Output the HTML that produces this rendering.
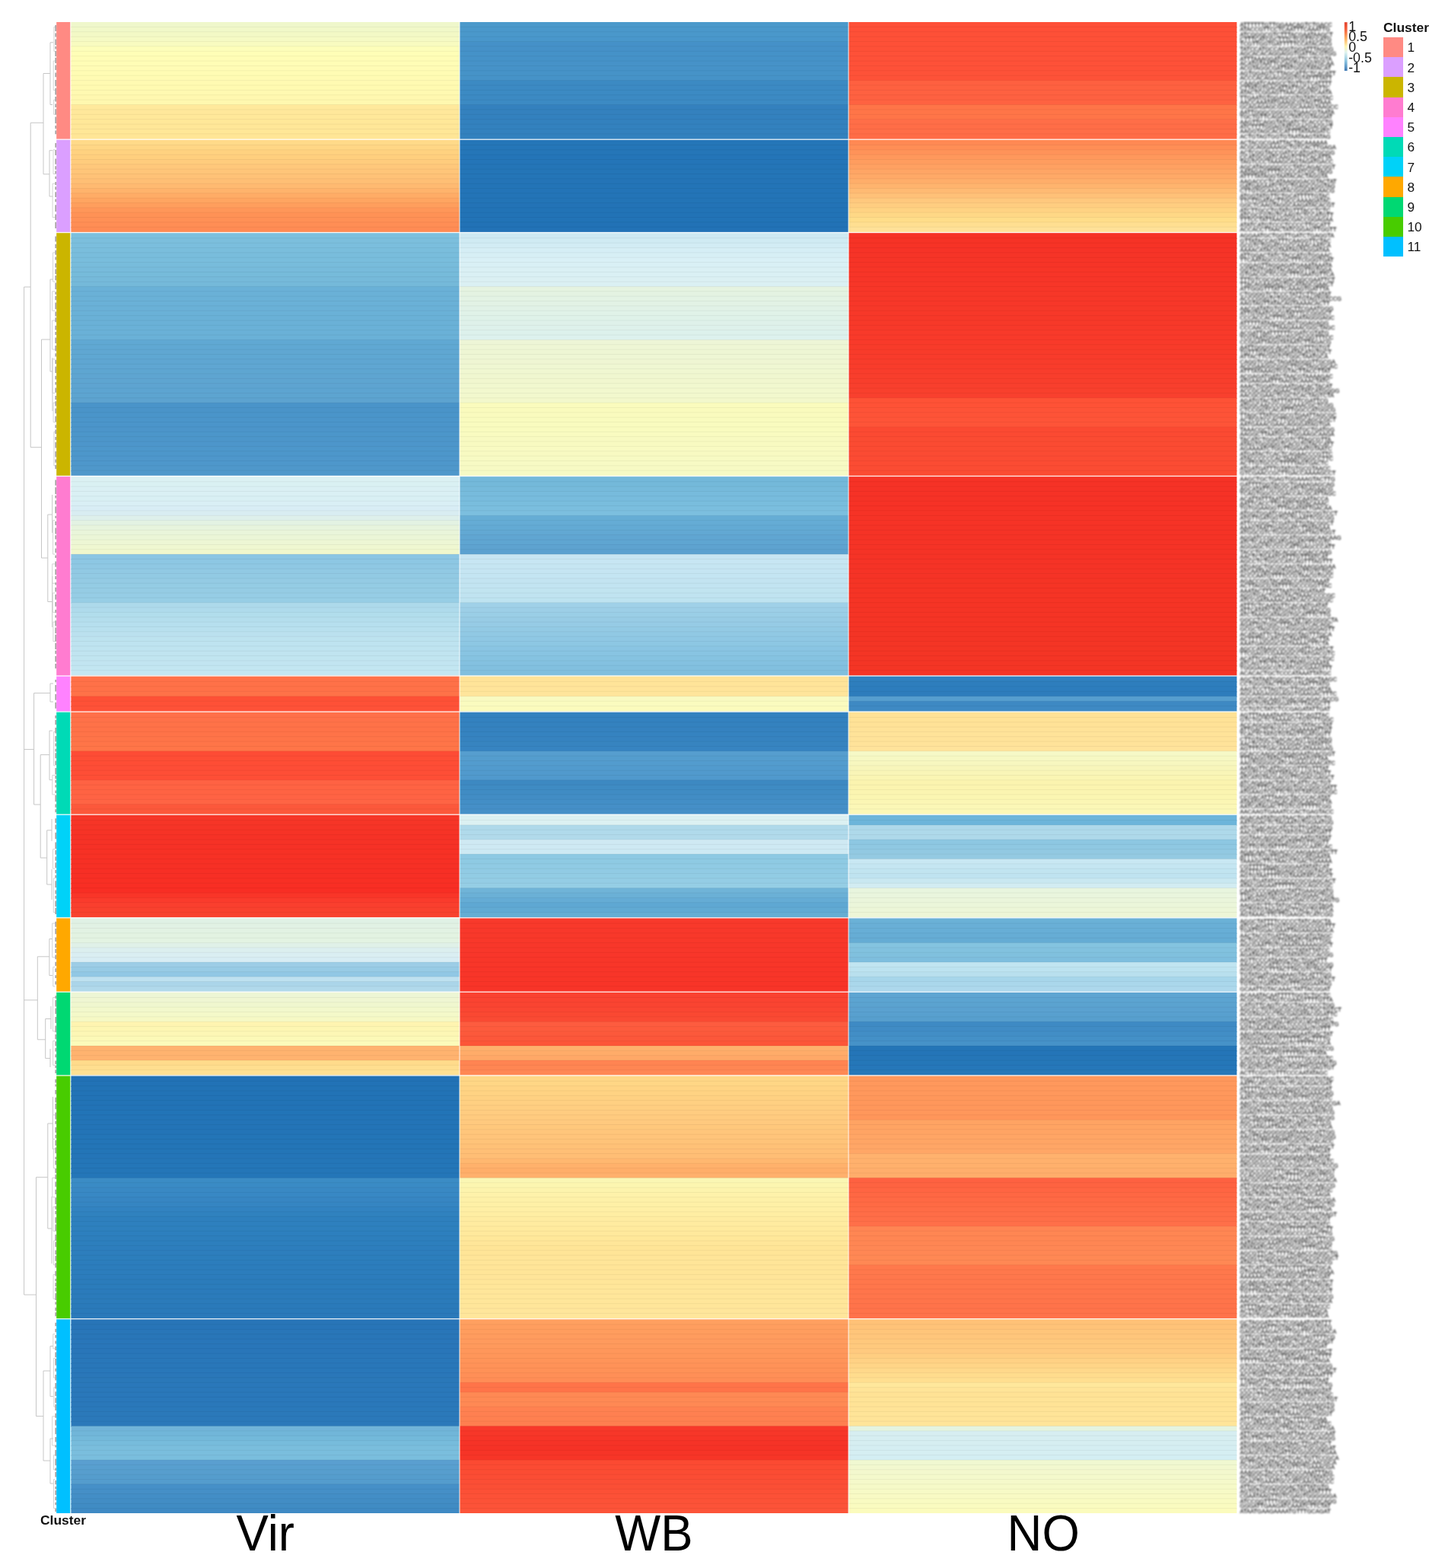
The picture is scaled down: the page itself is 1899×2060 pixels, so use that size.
<!DOCTYPE html>
<html lang="en"><head><meta charset="utf-8"><title>Heatmap</title>
<style>html,body{margin:0;padding:0;background:#fff}body{width:1899px;height:2060px;overflow:hidden}svg{display:block}text{font-family:"Liberation Sans",sans-serif}.rl{font-size:7.5px;fill:#000;stroke:#000;stroke-width:0.12px}.lg{font-size:17.2px;fill:#111}.cl{font-size:63.5px;fill:#000}</style></head><body>
<svg width="1899" height="2060" viewBox="0 0 1899 2060" role="img" aria-label="Clustered heatmap of Vir, WB and NO">
<rect width="1899" height="2060" fill="#fff"/>
<g fill="none" stroke="#C6C6C6" stroke-width="1.0" shape-rendering="geometricPrecision">
<path d="M31.6 377V1701"/>
<path d="M31.6 377H40.2"/>
<path d="M40.2 161.3V587.7"/>
<path d="M40.2 161.3H57"/>
<path d="M40.2 587.7H54.5"/>
<path d="M57 96.5V228.8"/>
<path d="M57 96.5H66"/>
<path d="M66 55.8V137.5"/>
<path d="M66 55.8H70"/>
<path d="M66 137.5H69"/>
<path d="M57 228.8H65"/>
<path d="M65 197.7V258"/>
<path d="M65 197.7H69"/>
<path d="M65 258H69.5"/>
<path d="M54.5 446V733"/>
<path d="M54.5 446H66"/>
<path d="M66 367V488"/>
<path d="M66 367H70"/>
<path d="M66 488H69"/>
<path d="M69 470V540"/>
<path d="M54.5 733H62.8"/>
<path d="M62.8 676V790.5"/>
<path d="M62.8 676H68.7"/>
<path d="M68.7 650V700"/>
<path d="M62.8 790.5H68.7"/>
<path d="M68.7 757V824"/>
<path d="M31.6 984.6H44.6"/>
<path d="M44.6 910.6V1057"/>
<path d="M44.6 910.6H66"/>
<path d="M66 898V922"/>
<path d="M66 898H70"/>
<path d="M66 922H70"/>
<path d="M44.6 1057H53.2"/>
<path d="M53.2 991.6V1127"/>
<path d="M53.2 991.6H65"/>
<path d="M65 960V1024.6"/>
<path d="M65 960H69"/>
<path d="M65 1024.6H69"/>
<path d="M53.2 1127H61.7"/>
<path d="M61.7 1090.8V1162"/>
<path d="M61.7 1090.8H68"/>
<path d="M68 1076V1105"/>
<path d="M61.7 1162H68"/>
<path d="M68 1142V1182"/>
<path d="M31.6 1313.9H49.3"/>
<path d="M49.3 1256.8V1365.8"/>
<path d="M49.3 1256.8H64.9"/>
<path d="M64.9 1233.5V1281.5"/>
<path d="M64.9 1233.5H69"/>
<path d="M64.9 1281.5H69"/>
<path d="M49.3 1365.8H59.7"/>
<path d="M59.7 1338.5V1390.4"/>
<path d="M59.7 1338.5H67"/>
<path d="M67 1322V1352"/>
<path d="M59.7 1390.4H66"/>
<path d="M66 1378V1402"/>
<path d="M31.6 1701H47.5"/>
<path d="M47.5 1546.7V1860.6"/>
<path d="M47.5 1546.7H62.8"/>
<path d="M62.8 1476V1614"/>
<path d="M62.8 1476H69.5"/>
<path d="M69.5 1441V1510"/>
<path d="M62.8 1614H68"/>
<path d="M68 1572V1660"/>
<path d="M47.5 1860.6H57"/>
<path d="M57 1801V1919"/>
<path d="M57 1801H66"/>
<path d="M66 1768.5V1834.6"/>
<path d="M66 1768.5H70"/>
<path d="M66 1834.6H70"/>
<path d="M57 1919H66"/>
<path d="M66 1890V1949"/>
<path d="M66 1890H70"/>
<path d="M66 1949H70"/>
</g>
<g fill="none" stroke="#CFCFCF" stroke-width="0.9">
<path d="M72.4 35.4H70.9V67.3H72.4M72.4 80.1H70.2V118.4H72.4M72.4 131.2H70.6V150.3H72.4M72.4 196.8H70.0V228.5H72.4M72.4 241.2H69.1V285.5H72.4M72.4 331.9H69.6V370.1H72.4M72.4 382.8H68.8V408.2H72.4M72.4 421.0H68.7V459.1H72.4M72.4 471.9H68.9V516.4H72.4M72.4 529.1H70.1V554.6H72.4M72.4 567.3H70.9V611.8H72.4M72.4 683.7H69.6V728.1H72.4M72.4 740.9H68.7V766.3H72.4M72.4 779.0H69.3V804.4H72.4M72.4 817.1H69.9V842.6H72.4M72.4 961.4H70.6V1005.8H72.4M72.4 1018.5H68.8V1043.9H72.4M72.4 1115.7H69.5V1141.2H72.4M72.4 1153.9H70.3V1198.5H72.4M72.4 1213.1H68.7V1257.7H72.4M72.4 1270.4H69.8V1295.9H72.4M72.4 1310.5H69.6V1354.9H72.4M72.4 1367.6H69.7V1399.4H72.4M72.4 1464.8H69.3V1496.6H72.4M72.4 1509.3H70.3V1534.7H72.4M72.4 1547.4H68.8V1572.8H72.4M72.4 1585.6H69.9V1617.3H72.4M72.4 1630.1H70.4V1661.8H72.4M72.4 1674.5H70.1V1706.3H72.4M72.4 1752.7H69.8V1771.8H72.4M72.4 1784.5H70.4V1810.0H72.4M72.4 1822.7H70.8V1848.1H72.4M72.4 1860.8H68.7V1899.0H72.4M72.4 1911.7H70.4V1930.8H72.4M72.4 1943.5H70.5V1981.6H72.4"/>
</g>
<g fill="none" stroke="#4a4040" stroke-opacity="0.5" stroke-width="1.6">
<path d="M73.2 33.0V40.9M73.2 43.4V48.5M73.2 51.5V59.3M73.2 61.0V64.6M73.2 66.9V74.1M73.2 75.8V83.1M73.2 85.6V92.0M73.2 95.6V101.3M73.2 104.9V113.2M73.2 115.8V124.4M73.2 127.0V133.6M73.2 136.6V140.9M73.2 143.3V150.7M73.2 153.4V161.9M73.2 164.9V168.9M73.2 171.6V176.3M73.2 188.1V193.7M73.2 196.9V204.1M73.2 208.6V215.7M73.2 218.3V222.7M73.2 224.5V228.4M73.2 231.8V234.9M73.2 238.9V243.0M73.2 245.3V249.2M73.2 252.3V259.0M73.2 261.4V265.2M73.2 269.3V278.0M73.2 281.4V288.9M73.2 291.7V300.0M73.2 310.4V317.5M73.2 320.7V326.1M73.2 328.8V334.7M73.2 337.4V341.5M73.2 346.0V351.6M73.2 353.4V360.0M73.2 361.9V368.3M73.2 371.4V380.1M73.2 383.4V386.8M73.2 388.9V394.2M73.2 397.6V406.3M73.2 409.6V415.5M73.2 417.3V423.3M73.2 427.7V433.6M73.2 436.0V439.9M73.2 443.6V451.1M73.2 454.0V461.2M73.2 464.2V468.4M73.2 472.8V478.0M73.2 481.5V490.0M73.2 493.8V498.6M73.2 502.0V505.6M73.2 509.6V515.7M73.2 519.9V525.1M73.2 527.2V533.5M73.2 536.5V543.3M73.2 546.7V554.4M73.2 558.2V562.3M73.2 564.5V569.9M73.2 573.9V578.1M73.2 581.0V588.4M73.2 592.9V600.6M73.2 603.5V607.7M73.2 611.0V616.1M73.2 630.5V637.8M73.2 640.3V649.2M73.2 650.9V654.5M73.2 657.4V662.5M73.2 665.4V674.3M73.2 677.7V680.7M73.2 684.9V690.0M73.2 693.4V701.4M73.2 703.3V708.6M73.2 712.2V716.4M73.2 720.6V726.2M73.2 729.6V733.1M73.2 737.5V744.8M73.2 747.7V755.1M73.2 756.9V760.9M73.2 765.3V768.5M73.2 771.8V777.6M73.2 781.0V787.7M73.2 791.0V796.8M73.2 801.1V805.1M73.2 808.2V811.4M73.2 815.3V822.6M73.2 824.4V831.9M73.2 833.8V842.8M73.2 844.8V853.1M73.2 854.7V858.9M73.2 861.9V869.5M73.2 872.0V878.3M73.2 893.0V896.3M73.2 900.0V908.4M73.2 911.9V919.8M73.2 922.8V930.8M73.2 940.1V943.8M73.2 945.8V951.9M73.2 956.0V963.6M73.2 967.0V974.6M73.2 976.6V980.4M73.2 983.8V987.5M73.2 989.2V996.3M73.2 999.4V1005.3M73.2 1009.1V1017.4M73.2 1019.1V1023.2M73.2 1024.8V1028.4M73.2 1031.3V1034.4M73.2 1038.6V1042.0M73.2 1044.5V1053.3M73.2 1056.6V1060.8M73.2 1063.2V1067.2M73.2 1075.2V1081.2M73.2 1083.4V1089.6M73.2 1093.7V1102.3M73.2 1106.5V1114.9M73.2 1117.0V1122.7M73.2 1125.4V1130.8M73.2 1133.2V1140.3M73.2 1143.1V1147.3M73.2 1149.7V1153.5M73.2 1157.3V1165.9M73.2 1169.4V1174.6M73.2 1176.8V1180.7M73.2 1183.6V1191.0M73.2 1192.8V1201.1M73.2 1210.8V1217.8M73.2 1219.9V1227.2M73.2 1231.6V1237.1M73.2 1239.8V1245.0M73.2 1246.8V1251.9M73.2 1254.5V1260.2M73.2 1263.8V1269.1M73.2 1272.2V1277.0M73.2 1281.3V1285.0M73.2 1289.3V1293.6M73.2 1308.2V1311.7M73.2 1314.0V1322.4M73.2 1324.5V1332.0M73.2 1335.9V1344.0M73.2 1347.6V1356.2M73.2 1359.0V1365.2M73.2 1368.2V1374.2M73.2 1376.7V1381.4M73.2 1385.2V1389.3M73.2 1393.5V1398.1M73.2 1399.7V1403.2M73.2 1405.5V1410.0M73.2 1418.0V1422.5M73.2 1424.4V1427.5M73.2 1432.0V1437.5M73.2 1441.7V1448.4M73.2 1450.1V1457.3M73.2 1461.6V1470.5M73.2 1472.7V1476.8M73.2 1481.1V1487.9M73.2 1491.0V1495.2M73.2 1498.1V1505.1M73.2 1507.4V1515.2M73.2 1519.7V1522.9M73.2 1524.5V1530.5M73.2 1535.0V1541.0M73.2 1543.3V1549.0M73.2 1552.4V1559.3M73.2 1562.8V1569.1M73.2 1573.2V1582.1M73.2 1584.5V1588.8M73.2 1591.0V1595.2M73.2 1599.3V1606.7M73.2 1608.6V1617.5M73.2 1622.0V1630.0M73.2 1631.5V1638.3M73.2 1642.4V1648.0M73.2 1649.7V1656.7M73.2 1659.3V1665.4M73.2 1669.8V1676.4M73.2 1679.9V1683.2M73.2 1685.3V1689.9M73.2 1691.4V1696.6M73.2 1699.1V1708.0M73.2 1710.4V1713.7M73.2 1717.8V1722.1M73.2 1724.2V1729.2M73.2 1737.7V1742.3M73.2 1745.8V1750.3M73.2 1754.1V1757.7M73.2 1761.6V1765.5M73.2 1768.7V1774.1M73.2 1776.5V1783.3M73.2 1785.0V1793.8M73.2 1797.8V1801.8M73.2 1805.9V1813.6M73.2 1816.9V1824.5M73.2 1828.2V1834.1M73.2 1836.5V1843.2M73.2 1845.1V1853.1M73.2 1856.7V1862.8M73.2 1865.6V1872.8M73.2 1875.8V1884.3M73.2 1888.0V1894.5M73.2 1898.4V1901.5M73.2 1905.1V1912.8M73.2 1916.5V1925.2M73.2 1928.6V1932.1M73.2 1933.8V1940.6M73.2 1945.0V1950.2M73.2 1953.1V1956.4M73.2 1958.0V1964.1M73.2 1966.4V1971.0M73.2 1973.8V1977.2M73.2 1981.5V1986.0"/>
</g>
<g>
<rect x="74.2" y="29.00" width="18.1" height="154.50" fill="#FF8A83"/>
<rect x="74.2" y="182.90" width="18.1" height="122.90" fill="#DB9FFF"/>
<rect x="74.2" y="305.20" width="18.1" height="320.60" fill="#CBB500"/>
<rect x="74.2" y="625.20" width="18.1" height="263.10" fill="#FF7CD0"/>
<rect x="74.2" y="887.70" width="18.1" height="47.70" fill="#FF82FF"/>
<rect x="74.2" y="934.80" width="18.1" height="135.70" fill="#00DAB6"/>
<rect x="74.2" y="1069.90" width="18.1" height="136.20" fill="#00D2F8"/>
<rect x="74.2" y="1205.50" width="18.1" height="98.00" fill="#FFA800"/>
<rect x="74.2" y="1302.90" width="18.1" height="110.40" fill="#00D872"/>
<rect x="74.2" y="1412.70" width="18.1" height="320.30" fill="#48CC00"/>
<rect x="74.2" y="1732.40" width="18.1" height="255.60" fill="#00C0FF"/>
</g>
<g>
<rect x="93.4" y="29.00" width="511.0" height="7.59" fill="#EFF7CB"/>
<rect x="93.4" y="35.39" width="511.0" height="7.59" fill="#F1F8C8"/>
<rect x="93.4" y="41.77" width="511.0" height="7.59" fill="#F3F9C6"/>
<rect x="93.4" y="48.16" width="511.0" height="7.59" fill="#F5FAC4"/>
<rect x="93.4" y="54.54" width="511.0" height="7.59" fill="#F8FBC0"/>
<rect x="93.4" y="60.93" width="511.0" height="7.59" fill="#FDFEBA"/>
<rect x="93.4" y="67.31" width="511.0" height="7.59" fill="#FFFEB7"/>
<rect x="93.4" y="73.70" width="511.0" height="7.59" fill="#FFFDB6"/>
<rect x="93.4" y="80.08" width="511.0" height="7.59" fill="#FFFDB6"/>
<rect x="93.4" y="86.47" width="511.0" height="7.59" fill="#FFFCB5"/>
<rect x="93.4" y="92.85" width="511.0" height="7.59" fill="#FFFCB4"/>
<rect x="93.4" y="99.24" width="511.0" height="7.59" fill="#FFFBB3"/>
<rect x="93.4" y="105.62" width="511.0" height="7.59" fill="#FFFAB2"/>
<rect x="93.4" y="112.01" width="511.0" height="7.59" fill="#FFFAB1"/>
<rect x="93.4" y="118.40" width="511.0" height="7.59" fill="#FFF9B1"/>
<rect x="93.4" y="124.78" width="511.0" height="7.59" fill="#FFF8B0"/>
<rect x="93.4" y="131.17" width="511.0" height="7.59" fill="#FFF8AF"/>
<rect x="93.4" y="137.55" width="511.0" height="7.59" fill="#FFE99C"/>
<rect x="93.4" y="143.94" width="511.0" height="7.59" fill="#FFE89B"/>
<rect x="93.4" y="150.32" width="511.0" height="7.59" fill="#FFE89A"/>
<rect x="93.4" y="156.71" width="511.0" height="7.59" fill="#FFE899"/>
<rect x="93.4" y="163.09" width="511.0" height="7.59" fill="#FFE798"/>
<rect x="93.4" y="169.48" width="511.0" height="7.59" fill="#FFE797"/>
<rect x="93.4" y="175.86" width="511.0" height="7.64" fill="#FFE696"/>
<rect x="93.4" y="182.90" width="511.0" height="8.79" fill="#FFDA89"/>
<rect x="93.4" y="190.49" width="511.0" height="7.54" fill="#FFD685"/>
<rect x="93.4" y="196.82" width="511.0" height="7.54" fill="#FFD280"/>
<rect x="93.4" y="203.16" width="511.0" height="7.54" fill="#FFCF7E"/>
<rect x="93.4" y="209.50" width="511.0" height="7.54" fill="#FFCC7D"/>
<rect x="93.4" y="215.83" width="511.0" height="7.54" fill="#FFC87B"/>
<rect x="93.4" y="222.17" width="511.0" height="7.54" fill="#FFC579"/>
<rect x="93.4" y="228.51" width="511.0" height="7.54" fill="#FFC277"/>
<rect x="93.4" y="234.84" width="511.0" height="7.54" fill="#FFBF75"/>
<rect x="93.4" y="241.18" width="511.0" height="7.54" fill="#FFBA71"/>
<rect x="93.4" y="247.52" width="511.0" height="7.54" fill="#FFB36C"/>
<rect x="93.4" y="253.86" width="511.0" height="7.54" fill="#FFAC66"/>
<rect x="93.4" y="260.19" width="511.0" height="7.54" fill="#FFA561"/>
<rect x="93.4" y="266.53" width="511.0" height="7.54" fill="#FF9E5D"/>
<rect x="93.4" y="272.87" width="511.0" height="7.54" fill="#FF9759"/>
<rect x="93.4" y="279.20" width="511.0" height="7.54" fill="#FF9256"/>
<rect x="93.4" y="285.54" width="511.0" height="7.54" fill="#FF9056"/>
<rect x="93.4" y="291.88" width="511.0" height="7.54" fill="#FF8E55"/>
<rect x="93.4" y="298.21" width="511.0" height="7.59" fill="#FF8B54"/>
<rect x="93.4" y="305.20" width="511.0" height="8.81" fill="#7CC0DE"/>
<rect x="93.4" y="312.81" width="511.0" height="7.56" fill="#7CBFDD"/>
<rect x="93.4" y="319.17" width="511.0" height="7.56" fill="#7BBEDD"/>
<rect x="93.4" y="325.54" width="511.0" height="7.56" fill="#7ABEDC"/>
<rect x="93.4" y="331.90" width="511.0" height="7.56" fill="#79BDDC"/>
<rect x="93.4" y="338.26" width="511.0" height="7.56" fill="#79BDDC"/>
<rect x="93.4" y="344.62" width="511.0" height="7.56" fill="#78BCDB"/>
<rect x="93.4" y="350.98" width="511.0" height="7.56" fill="#77BBDB"/>
<rect x="93.4" y="357.35" width="511.0" height="7.56" fill="#76BBDA"/>
<rect x="93.4" y="363.71" width="511.0" height="7.56" fill="#76BADA"/>
<rect x="93.4" y="370.07" width="511.0" height="7.56" fill="#75B9D9"/>
<rect x="93.4" y="376.43" width="511.0" height="7.56" fill="#6AB1D7"/>
<rect x="93.4" y="382.79" width="511.0" height="7.56" fill="#6AB1D7"/>
<rect x="93.4" y="389.16" width="511.0" height="7.56" fill="#6AB1D7"/>
<rect x="93.4" y="395.52" width="511.0" height="7.56" fill="#6AB1D7"/>
<rect x="93.4" y="401.88" width="511.0" height="7.56" fill="#6AB1D7"/>
<rect x="93.4" y="408.24" width="511.0" height="7.56" fill="#6AB1D7"/>
<rect x="93.4" y="414.60" width="511.0" height="7.56" fill="#6AB1D7"/>
<rect x="93.4" y="420.97" width="511.0" height="7.56" fill="#6AB1D7"/>
<rect x="93.4" y="427.33" width="511.0" height="7.56" fill="#6AB1D7"/>
<rect x="93.4" y="433.69" width="511.0" height="7.56" fill="#6AB1D7"/>
<rect x="93.4" y="440.05" width="511.0" height="7.56" fill="#6AB1D7"/>
<rect x="93.4" y="446.41" width="511.0" height="7.56" fill="#60A8D3"/>
<rect x="93.4" y="452.78" width="511.0" height="7.56" fill="#60A8D3"/>
<rect x="93.4" y="459.14" width="511.0" height="7.56" fill="#60A7D2"/>
<rect x="93.4" y="465.50" width="511.0" height="7.56" fill="#5FA7D2"/>
<rect x="93.4" y="471.86" width="511.0" height="7.56" fill="#5FA6D2"/>
<rect x="93.4" y="478.22" width="511.0" height="7.56" fill="#5FA6D2"/>
<rect x="93.4" y="484.59" width="511.0" height="7.56" fill="#5EA6D1"/>
<rect x="93.4" y="490.95" width="511.0" height="7.56" fill="#5EA5D1"/>
<rect x="93.4" y="497.31" width="511.0" height="7.56" fill="#5EA5D1"/>
<rect x="93.4" y="503.67" width="511.0" height="7.56" fill="#5EA4D1"/>
<rect x="93.4" y="510.03" width="511.0" height="7.56" fill="#5DA4D1"/>
<rect x="93.4" y="516.40" width="511.0" height="7.56" fill="#5DA4D0"/>
<rect x="93.4" y="522.76" width="511.0" height="7.56" fill="#5DA3D0"/>
<rect x="93.4" y="529.12" width="511.0" height="7.56" fill="#4A94C9"/>
<rect x="93.4" y="535.48" width="511.0" height="7.56" fill="#4A94C9"/>
<rect x="93.4" y="541.84" width="511.0" height="7.56" fill="#4A95CA"/>
<rect x="93.4" y="548.21" width="511.0" height="7.56" fill="#4B95CA"/>
<rect x="93.4" y="554.57" width="511.0" height="7.56" fill="#4B95CA"/>
<rect x="93.4" y="560.93" width="511.0" height="7.56" fill="#4C95CA"/>
<rect x="93.4" y="567.29" width="511.0" height="7.56" fill="#4C96CA"/>
<rect x="93.4" y="573.65" width="511.0" height="7.56" fill="#4C96CA"/>
<rect x="93.4" y="580.02" width="511.0" height="7.56" fill="#4D96CB"/>
<rect x="93.4" y="586.38" width="511.0" height="7.56" fill="#4D97CB"/>
<rect x="93.4" y="592.74" width="511.0" height="7.56" fill="#4D97CB"/>
<rect x="93.4" y="599.10" width="511.0" height="7.56" fill="#4E97CB"/>
<rect x="93.4" y="605.46" width="511.0" height="7.56" fill="#4E97CB"/>
<rect x="93.4" y="611.83" width="511.0" height="7.56" fill="#4F98CB"/>
<rect x="93.4" y="618.19" width="511.0" height="7.61" fill="#4F98CB"/>
<rect x="93.4" y="625.20" width="511.0" height="8.81" fill="#DBF1F3"/>
<rect x="93.4" y="632.81" width="511.0" height="7.56" fill="#DAF1F3"/>
<rect x="93.4" y="639.16" width="511.0" height="7.56" fill="#DAF0F4"/>
<rect x="93.4" y="645.52" width="511.0" height="7.56" fill="#DAF0F4"/>
<rect x="93.4" y="651.87" width="511.0" height="7.56" fill="#D9F0F4"/>
<rect x="93.4" y="658.23" width="511.0" height="7.56" fill="#D9EFF5"/>
<rect x="93.4" y="664.59" width="511.0" height="7.56" fill="#D8EDF5"/>
<rect x="93.4" y="670.94" width="511.0" height="7.56" fill="#D9EDF2"/>
<rect x="93.4" y="677.30" width="511.0" height="7.56" fill="#DEF0EB"/>
<rect x="93.4" y="683.65" width="511.0" height="7.56" fill="#E3F2E3"/>
<rect x="93.4" y="690.01" width="511.0" height="7.56" fill="#E7F4DD"/>
<rect x="93.4" y="696.37" width="511.0" height="7.56" fill="#E9F5DA"/>
<rect x="93.4" y="702.72" width="511.0" height="7.56" fill="#EBF6D7"/>
<rect x="93.4" y="709.08" width="511.0" height="7.56" fill="#EDF6D4"/>
<rect x="93.4" y="715.44" width="511.0" height="7.56" fill="#EFF7D1"/>
<rect x="93.4" y="721.79" width="511.0" height="7.56" fill="#F1F8CD"/>
<rect x="93.4" y="728.15" width="511.0" height="7.56" fill="#8CC6E3"/>
<rect x="93.4" y="734.50" width="511.0" height="7.56" fill="#8DC7E3"/>
<rect x="93.4" y="740.86" width="511.0" height="7.56" fill="#8FC8E3"/>
<rect x="93.4" y="747.22" width="511.0" height="7.56" fill="#91C9E3"/>
<rect x="93.4" y="753.57" width="511.0" height="7.56" fill="#92CAE3"/>
<rect x="93.4" y="759.93" width="511.0" height="7.56" fill="#94CBE4"/>
<rect x="93.4" y="766.28" width="511.0" height="7.56" fill="#94CCE4"/>
<rect x="93.4" y="772.64" width="511.0" height="7.56" fill="#95CCE4"/>
<rect x="93.4" y="779.00" width="511.0" height="7.56" fill="#96CDE5"/>
<rect x="93.4" y="785.35" width="511.0" height="7.56" fill="#97CEE5"/>
<rect x="93.4" y="791.71" width="511.0" height="7.56" fill="#ADDAEB"/>
<rect x="93.4" y="798.06" width="511.0" height="7.56" fill="#AFDBEC"/>
<rect x="93.4" y="804.42" width="511.0" height="7.56" fill="#B1DDEC"/>
<rect x="93.4" y="810.78" width="511.0" height="7.56" fill="#B4DEED"/>
<rect x="93.4" y="817.13" width="511.0" height="7.56" fill="#B6DFEE"/>
<rect x="93.4" y="823.49" width="511.0" height="7.56" fill="#B8E0EE"/>
<rect x="93.4" y="829.85" width="511.0" height="7.56" fill="#BBE1EF"/>
<rect x="93.4" y="836.20" width="511.0" height="7.56" fill="#BDE3EF"/>
<rect x="93.4" y="842.56" width="511.0" height="7.56" fill="#BEE3F0"/>
<rect x="93.4" y="848.91" width="511.0" height="7.56" fill="#BFE4F0"/>
<rect x="93.4" y="855.27" width="511.0" height="7.56" fill="#C0E4F0"/>
<rect x="93.4" y="861.63" width="511.0" height="7.56" fill="#C1E5F0"/>
<rect x="93.4" y="867.98" width="511.0" height="7.56" fill="#C2E5F1"/>
<rect x="93.4" y="874.34" width="511.0" height="7.56" fill="#C3E6F1"/>
<rect x="93.4" y="880.69" width="511.0" height="7.61" fill="#C4E6F1"/>
<rect x="93.4" y="887.70" width="511.0" height="8.91" fill="#FF7048"/>
<rect x="93.4" y="895.41" width="511.0" height="7.66" fill="#FF7148"/>
<rect x="93.4" y="901.86" width="511.0" height="7.66" fill="#FF7148"/>
<rect x="93.4" y="908.32" width="511.0" height="7.66" fill="#FF7248"/>
<rect x="93.4" y="914.78" width="511.0" height="7.66" fill="#FE5036"/>
<rect x="93.4" y="921.24" width="511.0" height="7.66" fill="#FE5137"/>
<rect x="93.4" y="927.69" width="511.0" height="7.71" fill="#FE5238"/>
<rect x="93.4" y="934.80" width="511.0" height="8.79" fill="#FF7049"/>
<rect x="93.4" y="942.39" width="511.0" height="7.54" fill="#FF7149"/>
<rect x="93.4" y="948.74" width="511.0" height="7.54" fill="#FF7248"/>
<rect x="93.4" y="955.08" width="511.0" height="7.54" fill="#FF7248"/>
<rect x="93.4" y="961.42" width="511.0" height="7.54" fill="#FF7348"/>
<rect x="93.4" y="967.76" width="511.0" height="7.54" fill="#FF7448"/>
<rect x="93.4" y="974.11" width="511.0" height="7.54" fill="#FF7548"/>
<rect x="93.4" y="980.45" width="511.0" height="7.54" fill="#FF7548"/>
<rect x="93.4" y="986.79" width="511.0" height="7.54" fill="#FE4C35"/>
<rect x="93.4" y="993.14" width="511.0" height="7.54" fill="#FE4D35"/>
<rect x="93.4" y="999.48" width="511.0" height="7.54" fill="#FE4D35"/>
<rect x="93.4" y="1005.82" width="511.0" height="7.54" fill="#FE4D36"/>
<rect x="93.4" y="1012.16" width="511.0" height="7.54" fill="#FE4E36"/>
<rect x="93.4" y="1018.51" width="511.0" height="7.54" fill="#FE4E36"/>
<rect x="93.4" y="1024.85" width="511.0" height="7.54" fill="#FF6243"/>
<rect x="93.4" y="1031.19" width="511.0" height="7.54" fill="#FF6343"/>
<rect x="93.4" y="1037.54" width="511.0" height="7.54" fill="#FF6343"/>
<rect x="93.4" y="1043.88" width="511.0" height="7.54" fill="#FF6344"/>
<rect x="93.4" y="1050.22" width="511.0" height="7.54" fill="#FF6444"/>
<rect x="93.4" y="1056.56" width="511.0" height="7.54" fill="#FC583B"/>
<rect x="93.4" y="1062.91" width="511.0" height="7.59" fill="#FC583B"/>
<rect x="93.4" y="1069.90" width="511.0" height="8.82" fill="#F63628"/>
<rect x="93.4" y="1077.52" width="511.0" height="7.57" fill="#F63527"/>
<rect x="93.4" y="1083.88" width="511.0" height="7.57" fill="#F63427"/>
<rect x="93.4" y="1090.25" width="511.0" height="7.57" fill="#F63326"/>
<rect x="93.4" y="1096.62" width="511.0" height="7.57" fill="#F63226"/>
<rect x="93.4" y="1102.98" width="511.0" height="7.57" fill="#F63226"/>
<rect x="93.4" y="1109.35" width="511.0" height="7.57" fill="#F63126"/>
<rect x="93.4" y="1115.72" width="511.0" height="7.57" fill="#F73125"/>
<rect x="93.4" y="1122.08" width="511.0" height="7.57" fill="#F73125"/>
<rect x="93.4" y="1128.45" width="511.0" height="7.57" fill="#F73025"/>
<rect x="93.4" y="1134.82" width="511.0" height="7.57" fill="#F73025"/>
<rect x="93.4" y="1141.18" width="511.0" height="7.57" fill="#F72F25"/>
<rect x="93.4" y="1147.55" width="511.0" height="7.57" fill="#F72F25"/>
<rect x="93.4" y="1153.92" width="511.0" height="7.57" fill="#F82F24"/>
<rect x="93.4" y="1160.28" width="511.0" height="7.57" fill="#F82E24"/>
<rect x="93.4" y="1166.65" width="511.0" height="7.57" fill="#F82E24"/>
<rect x="93.4" y="1173.02" width="511.0" height="7.57" fill="#F93528"/>
<rect x="93.4" y="1179.38" width="511.0" height="7.57" fill="#FA3B2C"/>
<rect x="93.4" y="1185.75" width="511.0" height="7.57" fill="#FA3F2E"/>
<rect x="93.4" y="1192.12" width="511.0" height="7.57" fill="#F9412E"/>
<rect x="93.4" y="1198.48" width="511.0" height="7.62" fill="#F8422E"/>
<rect x="93.4" y="1205.50" width="511.0" height="8.82" fill="#E0F1E5"/>
<rect x="93.4" y="1213.12" width="511.0" height="7.57" fill="#E1F1E4"/>
<rect x="93.4" y="1219.48" width="511.0" height="7.57" fill="#E2F2E3"/>
<rect x="93.4" y="1225.85" width="511.0" height="7.57" fill="#E3F3E2"/>
<rect x="93.4" y="1232.22" width="511.0" height="7.57" fill="#E3F3E2"/>
<rect x="93.4" y="1238.58" width="511.0" height="7.57" fill="#E0F1E8"/>
<rect x="93.4" y="1244.95" width="511.0" height="7.57" fill="#DCEFEF"/>
<rect x="93.4" y="1251.32" width="511.0" height="7.57" fill="#DAEEF2"/>
<rect x="93.4" y="1257.68" width="511.0" height="7.57" fill="#D8EDF4"/>
<rect x="93.4" y="1264.05" width="511.0" height="7.57" fill="#9DCDE6"/>
<rect x="93.4" y="1270.42" width="511.0" height="7.57" fill="#97CBE5"/>
<rect x="93.4" y="1276.78" width="511.0" height="7.57" fill="#91C8E5"/>
<rect x="93.4" y="1283.15" width="511.0" height="7.57" fill="#BEE1F0"/>
<rect x="93.4" y="1289.52" width="511.0" height="7.57" fill="#ABD5E9"/>
<rect x="93.4" y="1295.88" width="511.0" height="7.62" fill="#B1D9EB"/>
<rect x="93.4" y="1302.90" width="511.0" height="8.80" fill="#EDF6D5"/>
<rect x="93.4" y="1310.50" width="511.0" height="7.55" fill="#EFF6D2"/>
<rect x="93.4" y="1316.84" width="511.0" height="7.55" fill="#F0F7CF"/>
<rect x="93.4" y="1323.19" width="511.0" height="7.55" fill="#F2F8CC"/>
<rect x="93.4" y="1329.54" width="511.0" height="7.55" fill="#F4F9C9"/>
<rect x="93.4" y="1335.89" width="511.0" height="7.55" fill="#F6F9C5"/>
<rect x="93.4" y="1342.23" width="511.0" height="7.55" fill="#FEF4B0"/>
<rect x="93.4" y="1348.58" width="511.0" height="7.55" fill="#FDF6B2"/>
<rect x="93.4" y="1354.93" width="511.0" height="7.55" fill="#FDF7B5"/>
<rect x="93.4" y="1361.27" width="511.0" height="7.55" fill="#FCF9B7"/>
<rect x="93.4" y="1367.62" width="511.0" height="7.55" fill="#FCFBBA"/>
<rect x="93.4" y="1373.97" width="511.0" height="7.55" fill="#FFB36F"/>
<rect x="93.4" y="1380.31" width="511.0" height="7.55" fill="#FFB36F"/>
<rect x="93.4" y="1386.66" width="511.0" height="7.55" fill="#FFB36F"/>
<rect x="93.4" y="1393.01" width="511.0" height="7.55" fill="#FFDB8B"/>
<rect x="93.4" y="1399.36" width="511.0" height="7.55" fill="#FFDE8F"/>
<rect x="93.4" y="1405.70" width="511.0" height="7.60" fill="#FFE193"/>
<rect x="93.4" y="1412.70" width="511.0" height="8.81" fill="#2272B6"/>
<rect x="93.4" y="1420.31" width="511.0" height="7.56" fill="#2272B6"/>
<rect x="93.4" y="1426.66" width="511.0" height="7.56" fill="#2273B6"/>
<rect x="93.4" y="1433.02" width="511.0" height="7.56" fill="#2273B6"/>
<rect x="93.4" y="1439.37" width="511.0" height="7.56" fill="#2273B6"/>
<rect x="93.4" y="1445.73" width="511.0" height="7.56" fill="#2273B6"/>
<rect x="93.4" y="1452.09" width="511.0" height="7.56" fill="#2273B6"/>
<rect x="93.4" y="1458.44" width="511.0" height="7.56" fill="#2274B7"/>
<rect x="93.4" y="1464.80" width="511.0" height="7.56" fill="#2374B7"/>
<rect x="93.4" y="1471.15" width="511.0" height="7.56" fill="#2374B7"/>
<rect x="93.4" y="1477.51" width="511.0" height="7.56" fill="#2374B7"/>
<rect x="93.4" y="1483.87" width="511.0" height="7.56" fill="#2374B7"/>
<rect x="93.4" y="1490.22" width="511.0" height="7.56" fill="#2375B7"/>
<rect x="93.4" y="1496.58" width="511.0" height="7.56" fill="#2375B7"/>
<rect x="93.4" y="1502.93" width="511.0" height="7.56" fill="#2375B7"/>
<rect x="93.4" y="1509.29" width="511.0" height="7.56" fill="#2375B7"/>
<rect x="93.4" y="1515.65" width="511.0" height="7.56" fill="#2475B8"/>
<rect x="93.4" y="1522.00" width="511.0" height="7.56" fill="#2476B8"/>
<rect x="93.4" y="1528.36" width="511.0" height="7.56" fill="#2476B8"/>
<rect x="93.4" y="1534.71" width="511.0" height="7.56" fill="#2476B8"/>
<rect x="93.4" y="1541.07" width="511.0" height="7.56" fill="#2476B8"/>
<rect x="93.4" y="1547.43" width="511.0" height="7.56" fill="#3B8CC5"/>
<rect x="93.4" y="1553.78" width="511.0" height="7.56" fill="#3A8BC5"/>
<rect x="93.4" y="1560.14" width="511.0" height="7.56" fill="#3989C4"/>
<rect x="93.4" y="1566.49" width="511.0" height="7.56" fill="#3888C4"/>
<rect x="93.4" y="1572.85" width="511.0" height="7.56" fill="#3786C3"/>
<rect x="93.4" y="1579.21" width="511.0" height="7.56" fill="#3585C2"/>
<rect x="93.4" y="1585.56" width="511.0" height="7.56" fill="#3283C1"/>
<rect x="93.4" y="1591.92" width="511.0" height="7.56" fill="#3082BF"/>
<rect x="93.4" y="1598.27" width="511.0" height="7.56" fill="#2E80BE"/>
<rect x="93.4" y="1604.63" width="511.0" height="7.56" fill="#2E80BE"/>
<rect x="93.4" y="1610.99" width="511.0" height="7.56" fill="#2E80BE"/>
<rect x="93.4" y="1617.34" width="511.0" height="7.56" fill="#2D7FBE"/>
<rect x="93.4" y="1623.70" width="511.0" height="7.56" fill="#2D7FBD"/>
<rect x="93.4" y="1630.05" width="511.0" height="7.56" fill="#2D7FBD"/>
<rect x="93.4" y="1636.41" width="511.0" height="7.56" fill="#2D7EBD"/>
<rect x="93.4" y="1642.77" width="511.0" height="7.56" fill="#2D7EBD"/>
<rect x="93.4" y="1649.12" width="511.0" height="7.56" fill="#2C7EBC"/>
<rect x="93.4" y="1655.48" width="511.0" height="7.56" fill="#2C7DBC"/>
<rect x="93.4" y="1661.83" width="511.0" height="7.56" fill="#2C7DBC"/>
<rect x="93.4" y="1668.19" width="511.0" height="7.56" fill="#2C7DBC"/>
<rect x="93.4" y="1674.55" width="511.0" height="7.56" fill="#2C7CBC"/>
<rect x="93.4" y="1680.90" width="511.0" height="7.56" fill="#2B7CBB"/>
<rect x="93.4" y="1687.26" width="511.0" height="7.56" fill="#2B7CBB"/>
<rect x="93.4" y="1693.61" width="511.0" height="7.56" fill="#2B7BBB"/>
<rect x="93.4" y="1699.97" width="511.0" height="7.56" fill="#2B7BBB"/>
<rect x="93.4" y="1706.33" width="511.0" height="7.56" fill="#2B7BBA"/>
<rect x="93.4" y="1712.68" width="511.0" height="7.56" fill="#2A7ABA"/>
<rect x="93.4" y="1719.04" width="511.0" height="7.56" fill="#2A7ABA"/>
<rect x="93.4" y="1725.39" width="511.0" height="7.61" fill="#2A79BA"/>
<rect x="93.4" y="1732.40" width="511.0" height="8.81" fill="#2875B8"/>
<rect x="93.4" y="1740.01" width="511.0" height="7.56" fill="#2875B8"/>
<rect x="93.4" y="1746.37" width="511.0" height="7.56" fill="#2976B8"/>
<rect x="93.4" y="1752.73" width="511.0" height="7.56" fill="#2976B8"/>
<rect x="93.4" y="1759.09" width="511.0" height="7.56" fill="#2976B9"/>
<rect x="93.4" y="1765.44" width="511.0" height="7.56" fill="#2976B9"/>
<rect x="93.4" y="1771.80" width="511.0" height="7.56" fill="#2976B9"/>
<rect x="93.4" y="1778.16" width="511.0" height="7.56" fill="#2977B9"/>
<rect x="93.4" y="1784.52" width="511.0" height="7.56" fill="#2977B9"/>
<rect x="93.4" y="1790.88" width="511.0" height="7.56" fill="#2977B9"/>
<rect x="93.4" y="1797.24" width="511.0" height="7.56" fill="#2977B9"/>
<rect x="93.4" y="1803.60" width="511.0" height="7.56" fill="#2A77B9"/>
<rect x="93.4" y="1809.96" width="511.0" height="7.56" fill="#2A78B9"/>
<rect x="93.4" y="1816.31" width="511.0" height="7.56" fill="#2A78BA"/>
<rect x="93.4" y="1822.67" width="511.0" height="7.56" fill="#2A78BA"/>
<rect x="93.4" y="1829.03" width="511.0" height="7.56" fill="#2A78BA"/>
<rect x="93.4" y="1835.39" width="511.0" height="7.56" fill="#2A78BA"/>
<rect x="93.4" y="1841.75" width="511.0" height="7.56" fill="#2A78BA"/>
<rect x="93.4" y="1848.11" width="511.0" height="7.56" fill="#2A79BA"/>
<rect x="93.4" y="1854.47" width="511.0" height="7.56" fill="#2B79BA"/>
<rect x="93.4" y="1860.83" width="511.0" height="7.56" fill="#2B79BA"/>
<rect x="93.4" y="1867.18" width="511.0" height="7.56" fill="#2B79BA"/>
<rect x="93.4" y="1873.54" width="511.0" height="7.56" fill="#71B4D9"/>
<rect x="93.4" y="1879.90" width="511.0" height="7.56" fill="#71B6D9"/>
<rect x="93.4" y="1886.26" width="511.0" height="7.56" fill="#73B9DA"/>
<rect x="93.4" y="1892.62" width="511.0" height="7.56" fill="#77BCDC"/>
<rect x="93.4" y="1898.98" width="511.0" height="7.56" fill="#7ABEDD"/>
<rect x="93.4" y="1905.34" width="511.0" height="7.56" fill="#7ABEDD"/>
<rect x="93.4" y="1911.69" width="511.0" height="7.56" fill="#7ABEDD"/>
<rect x="93.4" y="1918.05" width="511.0" height="7.56" fill="#5A9FD0"/>
<rect x="93.4" y="1924.41" width="511.0" height="7.56" fill="#589FCF"/>
<rect x="93.4" y="1930.77" width="511.0" height="7.56" fill="#579ECE"/>
<rect x="93.4" y="1937.13" width="511.0" height="7.56" fill="#559DCD"/>
<rect x="93.4" y="1943.49" width="511.0" height="7.56" fill="#549CCD"/>
<rect x="93.4" y="1949.85" width="511.0" height="7.56" fill="#4690C8"/>
<rect x="93.4" y="1956.21" width="511.0" height="7.56" fill="#458FC7"/>
<rect x="93.4" y="1962.57" width="511.0" height="7.56" fill="#438EC6"/>
<rect x="93.4" y="1968.92" width="511.0" height="7.56" fill="#428DC5"/>
<rect x="93.4" y="1975.28" width="511.0" height="7.56" fill="#408CC4"/>
<rect x="93.4" y="1981.64" width="511.0" height="6.36" fill="#3F8AC4"/>
<rect x="604.0" y="29.00" width="511.5" height="7.59" fill="#4B99CB"/>
<rect x="604.0" y="35.39" width="511.5" height="7.59" fill="#4A98CB"/>
<rect x="604.0" y="41.77" width="511.5" height="7.59" fill="#4A98CB"/>
<rect x="604.0" y="48.16" width="511.5" height="7.59" fill="#4997CB"/>
<rect x="604.0" y="54.54" width="511.5" height="7.59" fill="#4591C8"/>
<rect x="604.0" y="60.93" width="511.5" height="7.59" fill="#4591C8"/>
<rect x="604.0" y="67.31" width="511.5" height="7.59" fill="#4592C8"/>
<rect x="604.0" y="73.70" width="511.5" height="7.59" fill="#4592C8"/>
<rect x="604.0" y="80.08" width="511.5" height="7.59" fill="#4692C8"/>
<rect x="604.0" y="86.47" width="511.5" height="7.59" fill="#4692C8"/>
<rect x="604.0" y="92.85" width="511.5" height="7.59" fill="#4693C8"/>
<rect x="604.0" y="99.24" width="511.5" height="7.59" fill="#4693C8"/>
<rect x="604.0" y="105.62" width="511.5" height="7.59" fill="#3C8AC3"/>
<rect x="604.0" y="112.01" width="511.5" height="7.59" fill="#3C8AC3"/>
<rect x="604.0" y="118.40" width="511.5" height="7.59" fill="#3C8AC3"/>
<rect x="604.0" y="124.78" width="511.5" height="7.59" fill="#3C8AC3"/>
<rect x="604.0" y="131.17" width="511.5" height="7.59" fill="#3C8AC3"/>
<rect x="604.0" y="137.55" width="511.5" height="7.59" fill="#3481BE"/>
<rect x="604.0" y="143.94" width="511.5" height="7.59" fill="#3481BE"/>
<rect x="604.0" y="150.32" width="511.5" height="7.59" fill="#3381BE"/>
<rect x="604.0" y="156.71" width="511.5" height="7.59" fill="#3381BE"/>
<rect x="604.0" y="163.09" width="511.5" height="7.59" fill="#3381BE"/>
<rect x="604.0" y="169.48" width="511.5" height="7.59" fill="#3381BE"/>
<rect x="604.0" y="175.86" width="511.5" height="7.64" fill="#3281BE"/>
<rect x="604.0" y="182.90" width="511.5" height="8.79" fill="#2576B8"/>
<rect x="604.0" y="190.49" width="511.5" height="7.54" fill="#2576B8"/>
<rect x="604.0" y="196.82" width="511.5" height="7.54" fill="#2576B8"/>
<rect x="604.0" y="203.16" width="511.5" height="7.54" fill="#2475B8"/>
<rect x="604.0" y="209.50" width="511.5" height="7.54" fill="#2475B8"/>
<rect x="604.0" y="215.83" width="511.5" height="7.54" fill="#2475B7"/>
<rect x="604.0" y="222.17" width="511.5" height="7.54" fill="#2475B7"/>
<rect x="604.0" y="228.51" width="511.5" height="7.54" fill="#2475B7"/>
<rect x="604.0" y="234.84" width="511.5" height="7.54" fill="#2474B7"/>
<rect x="604.0" y="241.18" width="511.5" height="7.54" fill="#2374B7"/>
<rect x="604.0" y="247.52" width="511.5" height="7.54" fill="#2374B7"/>
<rect x="604.0" y="253.86" width="511.5" height="7.54" fill="#2374B7"/>
<rect x="604.0" y="260.19" width="511.5" height="7.54" fill="#2374B6"/>
<rect x="604.0" y="266.53" width="511.5" height="7.54" fill="#2373B6"/>
<rect x="604.0" y="272.87" width="511.5" height="7.54" fill="#2273B6"/>
<rect x="604.0" y="279.20" width="511.5" height="7.54" fill="#2273B6"/>
<rect x="604.0" y="285.54" width="511.5" height="7.54" fill="#2273B6"/>
<rect x="604.0" y="291.88" width="511.5" height="7.54" fill="#2272B6"/>
<rect x="604.0" y="298.21" width="511.5" height="7.59" fill="#2272B6"/>
<rect x="604.0" y="305.20" width="511.5" height="8.81" fill="#CEE9F2"/>
<rect x="604.0" y="312.81" width="511.5" height="7.56" fill="#D0EBF3"/>
<rect x="604.0" y="319.17" width="511.5" height="7.56" fill="#D2ECF4"/>
<rect x="604.0" y="325.54" width="511.5" height="7.56" fill="#D5EEF5"/>
<rect x="604.0" y="331.90" width="511.5" height="7.56" fill="#D7EFF5"/>
<rect x="604.0" y="338.26" width="511.5" height="7.56" fill="#D9F0F6"/>
<rect x="604.0" y="344.62" width="511.5" height="7.56" fill="#D9F0F5"/>
<rect x="604.0" y="350.98" width="511.5" height="7.56" fill="#DAF0F4"/>
<rect x="604.0" y="357.35" width="511.5" height="7.56" fill="#DAF0F4"/>
<rect x="604.0" y="363.71" width="511.5" height="7.56" fill="#DBF0F3"/>
<rect x="604.0" y="370.07" width="511.5" height="7.56" fill="#DBF0F3"/>
<rect x="604.0" y="376.43" width="511.5" height="7.56" fill="#E5F3E0"/>
<rect x="604.0" y="382.79" width="511.5" height="7.56" fill="#E4F3E2"/>
<rect x="604.0" y="389.16" width="511.5" height="7.56" fill="#E3F3E4"/>
<rect x="604.0" y="395.52" width="511.5" height="7.56" fill="#E2F2E5"/>
<rect x="604.0" y="401.88" width="511.5" height="7.56" fill="#E1F2E7"/>
<rect x="604.0" y="408.24" width="511.5" height="7.56" fill="#E0F2E8"/>
<rect x="604.0" y="414.60" width="511.5" height="7.56" fill="#DFF2E9"/>
<rect x="604.0" y="420.97" width="511.5" height="7.56" fill="#DFF1EA"/>
<rect x="604.0" y="427.33" width="511.5" height="7.56" fill="#DEF1EB"/>
<rect x="604.0" y="433.69" width="511.5" height="7.56" fill="#DDF1EC"/>
<rect x="604.0" y="440.05" width="511.5" height="7.56" fill="#DDF1EE"/>
<rect x="604.0" y="446.41" width="511.5" height="7.56" fill="#EDF5D6"/>
<rect x="604.0" y="452.78" width="511.5" height="7.56" fill="#EEF6D5"/>
<rect x="604.0" y="459.14" width="511.5" height="7.56" fill="#EEF6D4"/>
<rect x="604.0" y="465.50" width="511.5" height="7.56" fill="#EEF6D4"/>
<rect x="604.0" y="471.86" width="511.5" height="7.56" fill="#EFF6D3"/>
<rect x="604.0" y="478.22" width="511.5" height="7.56" fill="#EFF7D2"/>
<rect x="604.0" y="484.59" width="511.5" height="7.56" fill="#F0F7D1"/>
<rect x="604.0" y="490.95" width="511.5" height="7.56" fill="#F0F7D0"/>
<rect x="604.0" y="497.31" width="511.5" height="7.56" fill="#F1F7CF"/>
<rect x="604.0" y="503.67" width="511.5" height="7.56" fill="#F1F8CF"/>
<rect x="604.0" y="510.03" width="511.5" height="7.56" fill="#F2F8CE"/>
<rect x="604.0" y="516.40" width="511.5" height="7.56" fill="#F2F8CD"/>
<rect x="604.0" y="522.76" width="511.5" height="7.56" fill="#F3F8CC"/>
<rect x="604.0" y="529.12" width="511.5" height="7.56" fill="#FAFBBD"/>
<rect x="604.0" y="535.48" width="511.5" height="7.56" fill="#FAFBBD"/>
<rect x="604.0" y="541.84" width="511.5" height="7.56" fill="#FAFBBE"/>
<rect x="604.0" y="548.21" width="511.5" height="7.56" fill="#F9FBBE"/>
<rect x="604.0" y="554.57" width="511.5" height="7.56" fill="#F9FBBF"/>
<rect x="604.0" y="560.93" width="511.5" height="7.56" fill="#F9FBBF"/>
<rect x="604.0" y="567.29" width="511.5" height="7.56" fill="#F9FBC0"/>
<rect x="604.0" y="573.65" width="511.5" height="7.56" fill="#F8FAC1"/>
<rect x="604.0" y="580.02" width="511.5" height="7.56" fill="#F8FAC1"/>
<rect x="604.0" y="586.38" width="511.5" height="7.56" fill="#F8FAC2"/>
<rect x="604.0" y="592.74" width="511.5" height="7.56" fill="#F8FAC2"/>
<rect x="604.0" y="599.10" width="511.5" height="7.56" fill="#F7FAC3"/>
<rect x="604.0" y="605.46" width="511.5" height="7.56" fill="#F7FAC4"/>
<rect x="604.0" y="611.83" width="511.5" height="7.56" fill="#F7FAC4"/>
<rect x="604.0" y="618.19" width="511.5" height="7.61" fill="#F6FAC5"/>
<rect x="604.0" y="625.20" width="511.5" height="8.81" fill="#73B8DA"/>
<rect x="604.0" y="632.81" width="511.5" height="7.56" fill="#74B9DA"/>
<rect x="604.0" y="639.16" width="511.5" height="7.56" fill="#76BADB"/>
<rect x="604.0" y="645.52" width="511.5" height="7.56" fill="#77BBDC"/>
<rect x="604.0" y="651.87" width="511.5" height="7.56" fill="#78BCDD"/>
<rect x="604.0" y="658.23" width="511.5" height="7.56" fill="#79BDDD"/>
<rect x="604.0" y="664.59" width="511.5" height="7.56" fill="#7BBEDE"/>
<rect x="604.0" y="670.94" width="511.5" height="7.56" fill="#7CBFDF"/>
<rect x="604.0" y="677.30" width="511.5" height="7.56" fill="#66ADD5"/>
<rect x="604.0" y="683.65" width="511.5" height="7.56" fill="#65ACD5"/>
<rect x="604.0" y="690.01" width="511.5" height="7.56" fill="#63AAD4"/>
<rect x="604.0" y="696.37" width="511.5" height="7.56" fill="#62A8D3"/>
<rect x="604.0" y="702.72" width="511.5" height="7.56" fill="#60A6D2"/>
<rect x="604.0" y="709.08" width="511.5" height="7.56" fill="#5FA5D1"/>
<rect x="604.0" y="715.44" width="511.5" height="7.56" fill="#5EA3D0"/>
<rect x="604.0" y="721.79" width="511.5" height="7.56" fill="#5CA1D0"/>
<rect x="604.0" y="728.15" width="511.5" height="7.56" fill="#C8E6F3"/>
<rect x="604.0" y="734.50" width="511.5" height="7.56" fill="#C7E6F3"/>
<rect x="604.0" y="740.86" width="511.5" height="7.56" fill="#C6E6F2"/>
<rect x="604.0" y="747.22" width="511.5" height="7.56" fill="#C5E5F2"/>
<rect x="604.0" y="753.57" width="511.5" height="7.56" fill="#C4E5F2"/>
<rect x="604.0" y="759.93" width="511.5" height="7.56" fill="#C3E4F1"/>
<rect x="604.0" y="766.28" width="511.5" height="7.56" fill="#C2E4F1"/>
<rect x="604.0" y="772.64" width="511.5" height="7.56" fill="#C1E4F0"/>
<rect x="604.0" y="779.00" width="511.5" height="7.56" fill="#C0E3F0"/>
<rect x="604.0" y="785.35" width="511.5" height="7.56" fill="#BEE3F0"/>
<rect x="604.0" y="791.71" width="511.5" height="7.56" fill="#A0D1E8"/>
<rect x="604.0" y="798.06" width="511.5" height="7.56" fill="#9DCFE7"/>
<rect x="604.0" y="804.42" width="511.5" height="7.56" fill="#9ACEE6"/>
<rect x="604.0" y="810.78" width="511.5" height="7.56" fill="#98CCE5"/>
<rect x="604.0" y="817.13" width="511.5" height="7.56" fill="#96CBE5"/>
<rect x="604.0" y="823.49" width="511.5" height="7.56" fill="#93CAE4"/>
<rect x="604.0" y="829.85" width="511.5" height="7.56" fill="#91C9E4"/>
<rect x="604.0" y="836.20" width="511.5" height="7.56" fill="#8FC8E4"/>
<rect x="604.0" y="842.56" width="511.5" height="7.56" fill="#8DC7E3"/>
<rect x="604.0" y="848.91" width="511.5" height="7.56" fill="#8AC5E3"/>
<rect x="604.0" y="855.27" width="511.5" height="7.56" fill="#88C4E2"/>
<rect x="604.0" y="861.63" width="511.5" height="7.56" fill="#86C3E1"/>
<rect x="604.0" y="867.98" width="511.5" height="7.56" fill="#84C1E0"/>
<rect x="604.0" y="874.34" width="511.5" height="7.56" fill="#82C0DF"/>
<rect x="604.0" y="880.69" width="511.5" height="7.61" fill="#80BFDE"/>
<rect x="604.0" y="887.70" width="511.5" height="8.91" fill="#FFE398"/>
<rect x="604.0" y="895.41" width="511.5" height="7.66" fill="#FFE499"/>
<rect x="604.0" y="901.86" width="511.5" height="7.66" fill="#FFE49A"/>
<rect x="604.0" y="908.32" width="511.5" height="7.66" fill="#FFE59B"/>
<rect x="604.0" y="914.78" width="511.5" height="7.66" fill="#F9FAC1"/>
<rect x="604.0" y="921.24" width="511.5" height="7.66" fill="#FAFBBF"/>
<rect x="604.0" y="927.69" width="511.5" height="7.71" fill="#FBFBBD"/>
<rect x="604.0" y="934.80" width="511.5" height="8.79" fill="#3281BF"/>
<rect x="604.0" y="942.39" width="511.5" height="7.54" fill="#3381BF"/>
<rect x="604.0" y="948.74" width="511.5" height="7.54" fill="#3482BF"/>
<rect x="604.0" y="955.08" width="511.5" height="7.54" fill="#3582BF"/>
<rect x="604.0" y="961.42" width="511.5" height="7.54" fill="#3583C0"/>
<rect x="604.0" y="967.76" width="511.5" height="7.54" fill="#3683C0"/>
<rect x="604.0" y="974.11" width="511.5" height="7.54" fill="#3784C0"/>
<rect x="604.0" y="980.45" width="511.5" height="7.54" fill="#3784C1"/>
<rect x="604.0" y="986.79" width="511.5" height="7.54" fill="#569ECF"/>
<rect x="604.0" y="993.14" width="511.5" height="7.54" fill="#549DCE"/>
<rect x="604.0" y="999.48" width="511.5" height="7.54" fill="#539CCE"/>
<rect x="604.0" y="1005.82" width="511.5" height="7.54" fill="#529BCE"/>
<rect x="604.0" y="1012.16" width="511.5" height="7.54" fill="#519ACD"/>
<rect x="604.0" y="1018.51" width="511.5" height="7.54" fill="#5099CD"/>
<rect x="604.0" y="1024.85" width="511.5" height="7.54" fill="#3D89C2"/>
<rect x="604.0" y="1031.19" width="511.5" height="7.54" fill="#3F8BC3"/>
<rect x="604.0" y="1037.54" width="511.5" height="7.54" fill="#408CC4"/>
<rect x="604.0" y="1043.88" width="511.5" height="7.54" fill="#428DC5"/>
<rect x="604.0" y="1050.22" width="511.5" height="7.54" fill="#438EC6"/>
<rect x="604.0" y="1056.56" width="511.5" height="7.54" fill="#458FC7"/>
<rect x="604.0" y="1062.91" width="511.5" height="7.59" fill="#4690C8"/>
<rect x="604.0" y="1069.90" width="511.5" height="8.82" fill="#DCF1F2"/>
<rect x="604.0" y="1077.52" width="511.5" height="7.57" fill="#DCF1F2"/>
<rect x="604.0" y="1083.88" width="511.5" height="7.57" fill="#AFD9EA"/>
<rect x="604.0" y="1090.25" width="511.5" height="7.57" fill="#B0DAEB"/>
<rect x="604.0" y="1096.62" width="511.5" height="7.57" fill="#B1DAEB"/>
<rect x="604.0" y="1102.98" width="511.5" height="7.57" fill="#CFE9F3"/>
<rect x="604.0" y="1109.35" width="511.5" height="7.57" fill="#CEE9F3"/>
<rect x="604.0" y="1115.72" width="511.5" height="7.57" fill="#CDE9F3"/>
<rect x="604.0" y="1122.08" width="511.5" height="7.57" fill="#8DC9E3"/>
<rect x="604.0" y="1128.45" width="511.5" height="7.57" fill="#8ECAE3"/>
<rect x="604.0" y="1134.82" width="511.5" height="7.57" fill="#90CBE4"/>
<rect x="604.0" y="1141.18" width="511.5" height="7.57" fill="#91CBE4"/>
<rect x="604.0" y="1147.55" width="511.5" height="7.57" fill="#92CCE4"/>
<rect x="604.0" y="1153.92" width="511.5" height="7.57" fill="#94CDE5"/>
<rect x="604.0" y="1160.28" width="511.5" height="7.57" fill="#95CEE5"/>
<rect x="604.0" y="1166.65" width="511.5" height="7.57" fill="#70B4D8"/>
<rect x="604.0" y="1173.02" width="511.5" height="7.57" fill="#6BB0D6"/>
<rect x="604.0" y="1179.38" width="511.5" height="7.57" fill="#65ACD5"/>
<rect x="604.0" y="1185.75" width="511.5" height="7.57" fill="#5FA8D3"/>
<rect x="604.0" y="1192.12" width="511.5" height="7.57" fill="#61AAD3"/>
<rect x="604.0" y="1198.48" width="511.5" height="7.62" fill="#65ADD3"/>
<rect x="604.0" y="1205.50" width="511.5" height="8.82" fill="#F8392B"/>
<rect x="604.0" y="1213.12" width="511.5" height="7.57" fill="#F8392B"/>
<rect x="604.0" y="1219.48" width="511.5" height="7.57" fill="#F8382B"/>
<rect x="604.0" y="1225.85" width="511.5" height="7.57" fill="#F8382A"/>
<rect x="604.0" y="1232.22" width="511.5" height="7.57" fill="#F8382A"/>
<rect x="604.0" y="1238.58" width="511.5" height="7.57" fill="#F8372A"/>
<rect x="604.0" y="1244.95" width="511.5" height="7.57" fill="#F8372A"/>
<rect x="604.0" y="1251.32" width="511.5" height="7.57" fill="#F8362A"/>
<rect x="604.0" y="1257.68" width="511.5" height="7.57" fill="#F83629"/>
<rect x="604.0" y="1264.05" width="511.5" height="7.57" fill="#F83629"/>
<rect x="604.0" y="1270.42" width="511.5" height="7.57" fill="#F83529"/>
<rect x="604.0" y="1276.78" width="511.5" height="7.57" fill="#F83529"/>
<rect x="604.0" y="1283.15" width="511.5" height="7.57" fill="#F83528"/>
<rect x="604.0" y="1289.52" width="511.5" height="7.57" fill="#F83428"/>
<rect x="604.0" y="1295.88" width="511.5" height="7.62" fill="#F83428"/>
<rect x="604.0" y="1302.90" width="511.5" height="8.80" fill="#FA4130"/>
<rect x="604.0" y="1310.50" width="511.5" height="7.55" fill="#FA4331"/>
<rect x="604.0" y="1316.84" width="511.5" height="7.55" fill="#FA4431"/>
<rect x="604.0" y="1323.19" width="511.5" height="7.55" fill="#FA4632"/>
<rect x="604.0" y="1329.54" width="511.5" height="7.55" fill="#FA4832"/>
<rect x="604.0" y="1335.89" width="511.5" height="7.55" fill="#FA4A33"/>
<rect x="604.0" y="1342.23" width="511.5" height="7.55" fill="#FD5C3F"/>
<rect x="604.0" y="1348.58" width="511.5" height="7.55" fill="#FD5B3D"/>
<rect x="604.0" y="1354.93" width="511.5" height="7.55" fill="#FC593B"/>
<rect x="604.0" y="1361.27" width="511.5" height="7.55" fill="#FC573A"/>
<rect x="604.0" y="1367.62" width="511.5" height="7.55" fill="#FC5538"/>
<rect x="604.0" y="1373.97" width="511.5" height="7.55" fill="#FFB06C"/>
<rect x="604.0" y="1380.31" width="511.5" height="7.55" fill="#FFAC69"/>
<rect x="604.0" y="1386.66" width="511.5" height="7.55" fill="#FFA867"/>
<rect x="604.0" y="1393.01" width="511.5" height="7.55" fill="#FF8452"/>
<rect x="604.0" y="1399.36" width="511.5" height="7.55" fill="#FF8653"/>
<rect x="604.0" y="1405.70" width="511.5" height="7.60" fill="#FF8854"/>
<rect x="604.0" y="1412.70" width="511.5" height="8.81" fill="#FFD786"/>
<rect x="604.0" y="1420.31" width="511.5" height="7.56" fill="#FFD685"/>
<rect x="604.0" y="1426.66" width="511.5" height="7.56" fill="#FFD484"/>
<rect x="604.0" y="1433.02" width="511.5" height="7.56" fill="#FFD383"/>
<rect x="604.0" y="1439.37" width="511.5" height="7.56" fill="#FFD182"/>
<rect x="604.0" y="1445.73" width="511.5" height="7.56" fill="#FFD082"/>
<rect x="604.0" y="1452.09" width="511.5" height="7.56" fill="#FFCE81"/>
<rect x="604.0" y="1458.44" width="511.5" height="7.56" fill="#FFCC80"/>
<rect x="604.0" y="1464.80" width="511.5" height="7.56" fill="#FFCB7F"/>
<rect x="604.0" y="1471.15" width="511.5" height="7.56" fill="#FFC97E"/>
<rect x="604.0" y="1477.51" width="511.5" height="7.56" fill="#FFC87C"/>
<rect x="604.0" y="1483.87" width="511.5" height="7.56" fill="#FFC67B"/>
<rect x="604.0" y="1490.22" width="511.5" height="7.56" fill="#FFC47A"/>
<rect x="604.0" y="1496.58" width="511.5" height="7.56" fill="#FFC379"/>
<rect x="604.0" y="1502.93" width="511.5" height="7.56" fill="#FFC177"/>
<rect x="604.0" y="1509.29" width="511.5" height="7.56" fill="#FFBF76"/>
<rect x="604.0" y="1515.65" width="511.5" height="7.56" fill="#FFBE75"/>
<rect x="604.0" y="1522.00" width="511.5" height="7.56" fill="#FFB870"/>
<rect x="604.0" y="1528.36" width="511.5" height="7.56" fill="#FFB16B"/>
<rect x="604.0" y="1534.71" width="511.5" height="7.56" fill="#FFAE69"/>
<rect x="604.0" y="1541.07" width="511.5" height="7.56" fill="#FFB06C"/>
<rect x="604.0" y="1547.43" width="511.5" height="7.56" fill="#FAF7B4"/>
<rect x="604.0" y="1553.78" width="511.5" height="7.56" fill="#FCF6B0"/>
<rect x="604.0" y="1560.14" width="511.5" height="7.56" fill="#FDF4AD"/>
<rect x="604.0" y="1566.49" width="511.5" height="7.56" fill="#FEF2AA"/>
<rect x="604.0" y="1572.85" width="511.5" height="7.56" fill="#FEF1A8"/>
<rect x="604.0" y="1579.21" width="511.5" height="7.56" fill="#FEF0A6"/>
<rect x="604.0" y="1585.56" width="511.5" height="7.56" fill="#FFEFA5"/>
<rect x="604.0" y="1591.92" width="511.5" height="7.56" fill="#FFEEA3"/>
<rect x="604.0" y="1598.27" width="511.5" height="7.56" fill="#FFECA1"/>
<rect x="604.0" y="1604.63" width="511.5" height="7.56" fill="#FFEBA0"/>
<rect x="604.0" y="1610.99" width="511.5" height="7.56" fill="#FFEA9E"/>
<rect x="604.0" y="1617.34" width="511.5" height="7.56" fill="#FFE99C"/>
<rect x="604.0" y="1623.70" width="511.5" height="7.56" fill="#FFE89A"/>
<rect x="604.0" y="1630.05" width="511.5" height="7.56" fill="#FFE699"/>
<rect x="604.0" y="1636.41" width="511.5" height="7.56" fill="#FFE597"/>
<rect x="604.0" y="1642.77" width="511.5" height="7.56" fill="#FFE597"/>
<rect x="604.0" y="1649.12" width="511.5" height="7.56" fill="#FFE598"/>
<rect x="604.0" y="1655.48" width="511.5" height="7.56" fill="#FFE598"/>
<rect x="604.0" y="1661.83" width="511.5" height="7.56" fill="#FFE598"/>
<rect x="604.0" y="1668.19" width="511.5" height="7.56" fill="#FFE598"/>
<rect x="604.0" y="1674.55" width="511.5" height="7.56" fill="#FFE599"/>
<rect x="604.0" y="1680.90" width="511.5" height="7.56" fill="#FFE699"/>
<rect x="604.0" y="1687.26" width="511.5" height="7.56" fill="#FFE699"/>
<rect x="604.0" y="1693.61" width="511.5" height="7.56" fill="#FFE69A"/>
<rect x="604.0" y="1699.97" width="511.5" height="7.56" fill="#FFE69A"/>
<rect x="604.0" y="1706.33" width="511.5" height="7.56" fill="#FFE69A"/>
<rect x="604.0" y="1712.68" width="511.5" height="7.56" fill="#FFE69A"/>
<rect x="604.0" y="1719.04" width="511.5" height="7.56" fill="#FFE69B"/>
<rect x="604.0" y="1725.39" width="511.5" height="7.61" fill="#FFE69B"/>
<rect x="604.0" y="1732.40" width="511.5" height="8.81" fill="#FFA060"/>
<rect x="604.0" y="1740.01" width="511.5" height="7.56" fill="#FF9E5F"/>
<rect x="604.0" y="1746.37" width="511.5" height="7.56" fill="#FF9D5E"/>
<rect x="604.0" y="1752.73" width="511.5" height="7.56" fill="#FF9C5E"/>
<rect x="604.0" y="1759.09" width="511.5" height="7.56" fill="#FF9A5D"/>
<rect x="604.0" y="1765.44" width="511.5" height="7.56" fill="#FF995C"/>
<rect x="604.0" y="1771.80" width="511.5" height="7.56" fill="#FF975B"/>
<rect x="604.0" y="1778.16" width="511.5" height="7.56" fill="#FF965A"/>
<rect x="604.0" y="1784.52" width="511.5" height="7.56" fill="#FF9459"/>
<rect x="604.0" y="1790.88" width="511.5" height="7.56" fill="#FF9258"/>
<rect x="604.0" y="1797.24" width="511.5" height="7.56" fill="#FF9157"/>
<rect x="604.0" y="1803.60" width="511.5" height="7.56" fill="#FF8F57"/>
<rect x="604.0" y="1809.96" width="511.5" height="7.56" fill="#FF8D56"/>
<rect x="604.0" y="1816.31" width="511.5" height="7.56" fill="#FF7449"/>
<rect x="604.0" y="1822.67" width="511.5" height="7.56" fill="#FF7449"/>
<rect x="604.0" y="1829.03" width="511.5" height="7.56" fill="#FF8954"/>
<rect x="604.0" y="1835.39" width="511.5" height="7.56" fill="#FF8954"/>
<rect x="604.0" y="1841.75" width="511.5" height="7.56" fill="#FF8954"/>
<rect x="604.0" y="1848.11" width="511.5" height="7.56" fill="#FF8151"/>
<rect x="604.0" y="1854.47" width="511.5" height="7.56" fill="#FF8051"/>
<rect x="604.0" y="1860.83" width="511.5" height="7.56" fill="#FF8050"/>
<rect x="604.0" y="1867.18" width="511.5" height="7.56" fill="#FF7F50"/>
<rect x="604.0" y="1873.54" width="511.5" height="7.56" fill="#F8382A"/>
<rect x="604.0" y="1879.90" width="511.5" height="7.56" fill="#F73729"/>
<rect x="604.0" y="1886.26" width="511.5" height="7.56" fill="#F73528"/>
<rect x="604.0" y="1892.62" width="511.5" height="7.56" fill="#F63327"/>
<rect x="604.0" y="1898.98" width="511.5" height="7.56" fill="#F63226"/>
<rect x="604.0" y="1905.34" width="511.5" height="7.56" fill="#F63427"/>
<rect x="604.0" y="1911.69" width="511.5" height="7.56" fill="#F73527"/>
<rect x="604.0" y="1918.05" width="511.5" height="7.56" fill="#FB4A32"/>
<rect x="604.0" y="1924.41" width="511.5" height="7.56" fill="#FB4B33"/>
<rect x="604.0" y="1930.77" width="511.5" height="7.56" fill="#FB4C33"/>
<rect x="604.0" y="1937.13" width="511.5" height="7.56" fill="#FB4D34"/>
<rect x="604.0" y="1943.49" width="511.5" height="7.56" fill="#FB4E35"/>
<rect x="604.0" y="1949.85" width="511.5" height="7.56" fill="#FB4F35"/>
<rect x="604.0" y="1956.21" width="511.5" height="7.56" fill="#FC5036"/>
<rect x="604.0" y="1962.57" width="511.5" height="7.56" fill="#FC5137"/>
<rect x="604.0" y="1968.92" width="511.5" height="7.56" fill="#FC5237"/>
<rect x="604.0" y="1975.28" width="511.5" height="7.56" fill="#FC5338"/>
<rect x="604.0" y="1981.64" width="511.5" height="6.36" fill="#FC5439"/>
<rect x="1115.1" y="29.00" width="510.3" height="7.59" fill="#FE4F37"/>
<rect x="1115.1" y="35.39" width="510.3" height="7.59" fill="#FE4F37"/>
<rect x="1115.1" y="41.77" width="510.3" height="7.59" fill="#FE5037"/>
<rect x="1115.1" y="48.16" width="510.3" height="7.59" fill="#FE5037"/>
<rect x="1115.1" y="54.54" width="510.3" height="7.59" fill="#FE5037"/>
<rect x="1115.1" y="60.93" width="510.3" height="7.59" fill="#FE5037"/>
<rect x="1115.1" y="67.31" width="510.3" height="7.59" fill="#FE5138"/>
<rect x="1115.1" y="73.70" width="510.3" height="7.59" fill="#FE5138"/>
<rect x="1115.1" y="80.08" width="510.3" height="7.59" fill="#FE5138"/>
<rect x="1115.1" y="86.47" width="510.3" height="7.59" fill="#FE5138"/>
<rect x="1115.1" y="92.85" width="510.3" height="7.59" fill="#FE5238"/>
<rect x="1115.1" y="99.24" width="510.3" height="7.59" fill="#FE5238"/>
<rect x="1115.1" y="105.62" width="510.3" height="7.59" fill="#FE6040"/>
<rect x="1115.1" y="112.01" width="510.3" height="7.59" fill="#FE6140"/>
<rect x="1115.1" y="118.40" width="510.3" height="7.59" fill="#FE6141"/>
<rect x="1115.1" y="124.78" width="510.3" height="7.59" fill="#FE6141"/>
<rect x="1115.1" y="131.17" width="510.3" height="7.59" fill="#FE6241"/>
<rect x="1115.1" y="137.55" width="510.3" height="7.59" fill="#FF7548"/>
<rect x="1115.1" y="143.94" width="510.3" height="7.59" fill="#FF7548"/>
<rect x="1115.1" y="150.32" width="510.3" height="7.59" fill="#FF7548"/>
<rect x="1115.1" y="156.71" width="510.3" height="7.59" fill="#FF6E48"/>
<rect x="1115.1" y="163.09" width="510.3" height="7.59" fill="#FF6D47"/>
<rect x="1115.1" y="169.48" width="510.3" height="7.59" fill="#FF6D47"/>
<rect x="1115.1" y="175.86" width="510.3" height="7.64" fill="#FF6C46"/>
<rect x="1115.1" y="182.90" width="510.3" height="8.79" fill="#FF8954"/>
<rect x="1115.1" y="190.49" width="510.3" height="7.54" fill="#FF8E56"/>
<rect x="1115.1" y="196.82" width="510.3" height="7.54" fill="#FF9359"/>
<rect x="1115.1" y="203.16" width="510.3" height="7.54" fill="#FF985C"/>
<rect x="1115.1" y="209.50" width="510.3" height="7.54" fill="#FF9D5F"/>
<rect x="1115.1" y="215.83" width="510.3" height="7.54" fill="#FFA162"/>
<rect x="1115.1" y="222.17" width="510.3" height="7.54" fill="#FFA565"/>
<rect x="1115.1" y="228.51" width="510.3" height="7.54" fill="#FFA967"/>
<rect x="1115.1" y="234.84" width="510.3" height="7.54" fill="#FFAE6A"/>
<rect x="1115.1" y="241.18" width="510.3" height="7.54" fill="#FFB46E"/>
<rect x="1115.1" y="247.52" width="510.3" height="7.54" fill="#FFBA73"/>
<rect x="1115.1" y="253.86" width="510.3" height="7.54" fill="#FFC178"/>
<rect x="1115.1" y="260.19" width="510.3" height="7.54" fill="#FFC87D"/>
<rect x="1115.1" y="266.53" width="510.3" height="7.54" fill="#FFCD80"/>
<rect x="1115.1" y="272.87" width="510.3" height="7.54" fill="#FFD383"/>
<rect x="1115.1" y="279.20" width="510.3" height="7.54" fill="#FFD886"/>
<rect x="1115.1" y="285.54" width="510.3" height="7.54" fill="#FFDD89"/>
<rect x="1115.1" y="291.88" width="510.3" height="7.54" fill="#FFDF91"/>
<rect x="1115.1" y="298.21" width="510.3" height="7.59" fill="#FFE198"/>
<rect x="1115.1" y="305.20" width="510.3" height="8.81" fill="#F63226"/>
<rect x="1115.1" y="312.81" width="510.3" height="7.56" fill="#F63326"/>
<rect x="1115.1" y="319.17" width="510.3" height="7.56" fill="#F63326"/>
<rect x="1115.1" y="325.54" width="510.3" height="7.56" fill="#F63327"/>
<rect x="1115.1" y="331.90" width="510.3" height="7.56" fill="#F63427"/>
<rect x="1115.1" y="338.26" width="510.3" height="7.56" fill="#F63427"/>
<rect x="1115.1" y="344.62" width="510.3" height="7.56" fill="#F63427"/>
<rect x="1115.1" y="350.98" width="510.3" height="7.56" fill="#F73527"/>
<rect x="1115.1" y="357.35" width="510.3" height="7.56" fill="#F73528"/>
<rect x="1115.1" y="363.71" width="510.3" height="7.56" fill="#F73528"/>
<rect x="1115.1" y="370.07" width="510.3" height="7.56" fill="#F73628"/>
<rect x="1115.1" y="376.43" width="510.3" height="7.56" fill="#F73628"/>
<rect x="1115.1" y="382.79" width="510.3" height="7.56" fill="#F73728"/>
<rect x="1115.1" y="389.16" width="510.3" height="7.56" fill="#F73728"/>
<rect x="1115.1" y="395.52" width="510.3" height="7.56" fill="#F73729"/>
<rect x="1115.1" y="401.88" width="510.3" height="7.56" fill="#F73829"/>
<rect x="1115.1" y="408.24" width="510.3" height="7.56" fill="#F73829"/>
<rect x="1115.1" y="414.60" width="510.3" height="7.56" fill="#F73829"/>
<rect x="1115.1" y="420.97" width="510.3" height="7.56" fill="#F73929"/>
<rect x="1115.1" y="427.33" width="510.3" height="7.56" fill="#F7392A"/>
<rect x="1115.1" y="433.69" width="510.3" height="7.56" fill="#F83A2A"/>
<rect x="1115.1" y="440.05" width="510.3" height="7.56" fill="#F83A2A"/>
<rect x="1115.1" y="446.41" width="510.3" height="7.56" fill="#F83A2A"/>
<rect x="1115.1" y="452.78" width="510.3" height="7.56" fill="#F83B2A"/>
<rect x="1115.1" y="459.14" width="510.3" height="7.56" fill="#F83B2A"/>
<rect x="1115.1" y="465.50" width="510.3" height="7.56" fill="#F83B2B"/>
<rect x="1115.1" y="471.86" width="510.3" height="7.56" fill="#F83C2B"/>
<rect x="1115.1" y="478.22" width="510.3" height="7.56" fill="#F83C2B"/>
<rect x="1115.1" y="484.59" width="510.3" height="7.56" fill="#F83D2C"/>
<rect x="1115.1" y="490.95" width="510.3" height="7.56" fill="#F83E2C"/>
<rect x="1115.1" y="497.31" width="510.3" height="7.56" fill="#F83E2C"/>
<rect x="1115.1" y="503.67" width="510.3" height="7.56" fill="#F83F2D"/>
<rect x="1115.1" y="510.03" width="510.3" height="7.56" fill="#F8402D"/>
<rect x="1115.1" y="516.40" width="510.3" height="7.56" fill="#F8402E"/>
<rect x="1115.1" y="522.76" width="510.3" height="7.56" fill="#FE5236"/>
<rect x="1115.1" y="529.12" width="510.3" height="7.56" fill="#FE5236"/>
<rect x="1115.1" y="535.48" width="510.3" height="7.56" fill="#FE5337"/>
<rect x="1115.1" y="541.84" width="510.3" height="7.56" fill="#FE5337"/>
<rect x="1115.1" y="548.21" width="510.3" height="7.56" fill="#FE5438"/>
<rect x="1115.1" y="554.57" width="510.3" height="7.56" fill="#FE5438"/>
<rect x="1115.1" y="560.93" width="510.3" height="7.56" fill="#FB4A32"/>
<rect x="1115.1" y="567.29" width="510.3" height="7.56" fill="#FB4A32"/>
<rect x="1115.1" y="573.65" width="510.3" height="7.56" fill="#FB4B32"/>
<rect x="1115.1" y="580.02" width="510.3" height="7.56" fill="#FB4B32"/>
<rect x="1115.1" y="586.38" width="510.3" height="7.56" fill="#FB4B32"/>
<rect x="1115.1" y="592.74" width="510.3" height="7.56" fill="#FB4B33"/>
<rect x="1115.1" y="599.10" width="510.3" height="7.56" fill="#FB4B33"/>
<rect x="1115.1" y="605.46" width="510.3" height="7.56" fill="#FB4C33"/>
<rect x="1115.1" y="611.83" width="510.3" height="7.56" fill="#FB4C33"/>
<rect x="1115.1" y="618.19" width="510.3" height="7.61" fill="#FB4C33"/>
<rect x="1115.1" y="625.20" width="510.3" height="8.81" fill="#F63226"/>
<rect x="1115.1" y="632.81" width="510.3" height="7.56" fill="#F63226"/>
<rect x="1115.1" y="639.16" width="510.3" height="7.56" fill="#F63226"/>
<rect x="1115.1" y="645.52" width="510.3" height="7.56" fill="#F63226"/>
<rect x="1115.1" y="651.87" width="510.3" height="7.56" fill="#F63226"/>
<rect x="1115.1" y="658.23" width="510.3" height="7.56" fill="#F63226"/>
<rect x="1115.1" y="664.59" width="510.3" height="7.56" fill="#F63226"/>
<rect x="1115.1" y="670.94" width="510.3" height="7.56" fill="#F63326"/>
<rect x="1115.1" y="677.30" width="510.3" height="7.56" fill="#F63326"/>
<rect x="1115.1" y="683.65" width="510.3" height="7.56" fill="#F63326"/>
<rect x="1115.1" y="690.01" width="510.3" height="7.56" fill="#F53326"/>
<rect x="1115.1" y="696.37" width="510.3" height="7.56" fill="#F53326"/>
<rect x="1115.1" y="702.72" width="510.3" height="7.56" fill="#F53326"/>
<rect x="1115.1" y="709.08" width="510.3" height="7.56" fill="#F53326"/>
<rect x="1115.1" y="715.44" width="510.3" height="7.56" fill="#F53326"/>
<rect x="1115.1" y="721.79" width="510.3" height="7.56" fill="#F53326"/>
<rect x="1115.1" y="728.15" width="510.3" height="7.56" fill="#F53326"/>
<rect x="1115.1" y="734.50" width="510.3" height="7.56" fill="#F53326"/>
<rect x="1115.1" y="740.86" width="510.3" height="7.56" fill="#F53326"/>
<rect x="1115.1" y="747.22" width="510.3" height="7.56" fill="#F53326"/>
<rect x="1115.1" y="753.57" width="510.3" height="7.56" fill="#F53326"/>
<rect x="1115.1" y="759.93" width="510.3" height="7.56" fill="#F53425"/>
<rect x="1115.1" y="766.28" width="510.3" height="7.56" fill="#F53425"/>
<rect x="1115.1" y="772.64" width="510.3" height="7.56" fill="#F53425"/>
<rect x="1115.1" y="779.00" width="510.3" height="7.56" fill="#F53425"/>
<rect x="1115.1" y="785.35" width="510.3" height="7.56" fill="#F53425"/>
<rect x="1115.1" y="791.71" width="510.3" height="7.56" fill="#F53425"/>
<rect x="1115.1" y="798.06" width="510.3" height="7.56" fill="#F53425"/>
<rect x="1115.1" y="804.42" width="510.3" height="7.56" fill="#F53425"/>
<rect x="1115.1" y="810.78" width="510.3" height="7.56" fill="#F53425"/>
<rect x="1115.1" y="817.13" width="510.3" height="7.56" fill="#F53425"/>
<rect x="1115.1" y="823.49" width="510.3" height="7.56" fill="#F43425"/>
<rect x="1115.1" y="829.85" width="510.3" height="7.56" fill="#F43425"/>
<rect x="1115.1" y="836.20" width="510.3" height="7.56" fill="#F43425"/>
<rect x="1115.1" y="842.56" width="510.3" height="7.56" fill="#F43525"/>
<rect x="1115.1" y="848.91" width="510.3" height="7.56" fill="#F43525"/>
<rect x="1115.1" y="855.27" width="510.3" height="7.56" fill="#F43525"/>
<rect x="1115.1" y="861.63" width="510.3" height="7.56" fill="#F43525"/>
<rect x="1115.1" y="867.98" width="510.3" height="7.56" fill="#F43525"/>
<rect x="1115.1" y="874.34" width="510.3" height="7.56" fill="#F43525"/>
<rect x="1115.1" y="880.69" width="510.3" height="7.61" fill="#F43525"/>
<rect x="1115.1" y="887.70" width="510.3" height="8.91" fill="#2F80BE"/>
<rect x="1115.1" y="895.41" width="510.3" height="7.66" fill="#2E7EBD"/>
<rect x="1115.1" y="901.86" width="510.3" height="7.66" fill="#2D7DBD"/>
<rect x="1115.1" y="908.32" width="510.3" height="7.66" fill="#2D7CBC"/>
<rect x="1115.1" y="914.78" width="510.3" height="7.66" fill="#569ECF"/>
<rect x="1115.1" y="921.24" width="510.3" height="7.66" fill="#3E89C3"/>
<rect x="1115.1" y="927.69" width="510.3" height="7.71" fill="#3F8AC4"/>
<rect x="1115.1" y="934.80" width="510.3" height="8.79" fill="#FFE295"/>
<rect x="1115.1" y="942.39" width="510.3" height="7.54" fill="#FFE296"/>
<rect x="1115.1" y="948.74" width="510.3" height="7.54" fill="#FFE297"/>
<rect x="1115.1" y="955.08" width="510.3" height="7.54" fill="#FFE298"/>
<rect x="1115.1" y="961.42" width="510.3" height="7.54" fill="#FFE399"/>
<rect x="1115.1" y="967.76" width="510.3" height="7.54" fill="#FFE399"/>
<rect x="1115.1" y="974.11" width="510.3" height="7.54" fill="#FFE39A"/>
<rect x="1115.1" y="980.45" width="510.3" height="7.54" fill="#FFE39B"/>
<rect x="1115.1" y="986.79" width="510.3" height="7.54" fill="#F6F9C7"/>
<rect x="1115.1" y="993.14" width="510.3" height="7.54" fill="#F6F8C3"/>
<rect x="1115.1" y="999.48" width="510.3" height="7.54" fill="#F7F7BF"/>
<rect x="1115.1" y="1005.82" width="510.3" height="7.54" fill="#F8F6BB"/>
<rect x="1115.1" y="1012.16" width="510.3" height="7.54" fill="#F9F5B7"/>
<rect x="1115.1" y="1018.51" width="510.3" height="7.54" fill="#FAF5B3"/>
<rect x="1115.1" y="1024.85" width="510.3" height="7.54" fill="#FBF4AF"/>
<rect x="1115.1" y="1031.19" width="510.3" height="7.54" fill="#FBF4AF"/>
<rect x="1115.1" y="1037.54" width="510.3" height="7.54" fill="#FBF5B1"/>
<rect x="1115.1" y="1043.88" width="510.3" height="7.54" fill="#FBF6B2"/>
<rect x="1115.1" y="1050.22" width="510.3" height="7.54" fill="#FBF6B4"/>
<rect x="1115.1" y="1056.56" width="510.3" height="7.54" fill="#FBF7B6"/>
<rect x="1115.1" y="1062.91" width="510.3" height="7.59" fill="#FBF8B7"/>
<rect x="1115.1" y="1069.90" width="510.3" height="8.82" fill="#6CB5DA"/>
<rect x="1115.1" y="1077.52" width="510.3" height="7.57" fill="#6CB5DA"/>
<rect x="1115.1" y="1083.88" width="510.3" height="7.57" fill="#AED9EA"/>
<rect x="1115.1" y="1090.25" width="510.3" height="7.57" fill="#AED9EA"/>
<rect x="1115.1" y="1096.62" width="510.3" height="7.57" fill="#AED9EA"/>
<rect x="1115.1" y="1102.98" width="510.3" height="7.57" fill="#8DC7E2"/>
<rect x="1115.1" y="1109.35" width="510.3" height="7.57" fill="#8FC8E2"/>
<rect x="1115.1" y="1115.72" width="510.3" height="7.57" fill="#92C9E2"/>
<rect x="1115.1" y="1122.08" width="510.3" height="7.57" fill="#94CAE2"/>
<rect x="1115.1" y="1128.45" width="510.3" height="7.57" fill="#C9E8F3"/>
<rect x="1115.1" y="1134.82" width="510.3" height="7.57" fill="#C5E6F2"/>
<rect x="1115.1" y="1141.18" width="510.3" height="7.57" fill="#C1E4F0"/>
<rect x="1115.1" y="1147.55" width="510.3" height="7.57" fill="#BFE3F0"/>
<rect x="1115.1" y="1153.92" width="510.3" height="7.57" fill="#C9E8F1"/>
<rect x="1115.1" y="1160.28" width="510.3" height="7.57" fill="#D2ECF2"/>
<rect x="1115.1" y="1166.65" width="510.3" height="7.57" fill="#E8F5DE"/>
<rect x="1115.1" y="1173.02" width="510.3" height="7.57" fill="#E9F5DD"/>
<rect x="1115.1" y="1179.38" width="510.3" height="7.57" fill="#EAF5DB"/>
<rect x="1115.1" y="1185.75" width="510.3" height="7.57" fill="#EBF6DA"/>
<rect x="1115.1" y="1192.12" width="510.3" height="7.57" fill="#ECF6D8"/>
<rect x="1115.1" y="1198.48" width="510.3" height="7.62" fill="#EDF6D7"/>
<rect x="1115.1" y="1205.50" width="510.3" height="8.82" fill="#6AB1D7"/>
<rect x="1115.1" y="1213.12" width="510.3" height="7.57" fill="#69AFD6"/>
<rect x="1115.1" y="1219.48" width="510.3" height="7.57" fill="#67AED6"/>
<rect x="1115.1" y="1225.85" width="510.3" height="7.57" fill="#66ADD5"/>
<rect x="1115.1" y="1232.22" width="510.3" height="7.57" fill="#65ACD4"/>
<rect x="1115.1" y="1238.58" width="510.3" height="7.57" fill="#84C4E0"/>
<rect x="1115.1" y="1244.95" width="510.3" height="7.57" fill="#82C2DF"/>
<rect x="1115.1" y="1251.32" width="510.3" height="7.57" fill="#80C0DE"/>
<rect x="1115.1" y="1257.68" width="510.3" height="7.57" fill="#7EBEDE"/>
<rect x="1115.1" y="1264.05" width="510.3" height="7.57" fill="#C1E5F1"/>
<rect x="1115.1" y="1270.42" width="510.3" height="7.57" fill="#BDE3F0"/>
<rect x="1115.1" y="1276.78" width="510.3" height="7.57" fill="#B9E0EE"/>
<rect x="1115.1" y="1283.15" width="510.3" height="7.57" fill="#A7D6EA"/>
<rect x="1115.1" y="1289.52" width="510.3" height="7.57" fill="#AAD7EB"/>
<rect x="1115.1" y="1295.88" width="510.3" height="7.62" fill="#ADD8EC"/>
<rect x="1115.1" y="1302.90" width="510.3" height="8.80" fill="#5EA5D2"/>
<rect x="1115.1" y="1310.50" width="510.3" height="7.55" fill="#5CA4D1"/>
<rect x="1115.1" y="1316.84" width="510.3" height="7.55" fill="#5BA3D0"/>
<rect x="1115.1" y="1323.19" width="510.3" height="7.55" fill="#5AA1D0"/>
<rect x="1115.1" y="1329.54" width="510.3" height="7.55" fill="#58A0CF"/>
<rect x="1115.1" y="1335.89" width="510.3" height="7.55" fill="#579FCE"/>
<rect x="1115.1" y="1342.23" width="510.3" height="7.55" fill="#3E8AC4"/>
<rect x="1115.1" y="1348.58" width="510.3" height="7.55" fill="#408CC5"/>
<rect x="1115.1" y="1354.93" width="510.3" height="7.55" fill="#428EC6"/>
<rect x="1115.1" y="1361.27" width="510.3" height="7.55" fill="#4490C7"/>
<rect x="1115.1" y="1367.62" width="510.3" height="7.55" fill="#4692C8"/>
<rect x="1115.1" y="1373.97" width="510.3" height="7.55" fill="#2475B7"/>
<rect x="1115.1" y="1380.31" width="510.3" height="7.55" fill="#2475B8"/>
<rect x="1115.1" y="1386.66" width="510.3" height="7.55" fill="#2576B8"/>
<rect x="1115.1" y="1393.01" width="510.3" height="7.55" fill="#2577B8"/>
<rect x="1115.1" y="1399.36" width="510.3" height="7.55" fill="#2677B9"/>
<rect x="1115.1" y="1405.70" width="510.3" height="7.60" fill="#2778B9"/>
<rect x="1115.1" y="1412.70" width="510.3" height="8.81" fill="#FF985C"/>
<rect x="1115.1" y="1420.31" width="510.3" height="7.56" fill="#FF985C"/>
<rect x="1115.1" y="1426.66" width="510.3" height="7.56" fill="#FF985C"/>
<rect x="1115.1" y="1433.02" width="510.3" height="7.56" fill="#FF985C"/>
<rect x="1115.1" y="1439.37" width="510.3" height="7.56" fill="#FF975B"/>
<rect x="1115.1" y="1445.73" width="510.3" height="7.56" fill="#FF975B"/>
<rect x="1115.1" y="1452.09" width="510.3" height="7.56" fill="#FF975B"/>
<rect x="1115.1" y="1458.44" width="510.3" height="7.56" fill="#FF975B"/>
<rect x="1115.1" y="1464.80" width="510.3" height="7.56" fill="#FF965A"/>
<rect x="1115.1" y="1471.15" width="510.3" height="7.56" fill="#FFA363"/>
<rect x="1115.1" y="1477.51" width="510.3" height="7.56" fill="#FFA463"/>
<rect x="1115.1" y="1483.87" width="510.3" height="7.56" fill="#FFA464"/>
<rect x="1115.1" y="1490.22" width="510.3" height="7.56" fill="#FFA565"/>
<rect x="1115.1" y="1496.58" width="510.3" height="7.56" fill="#FFA565"/>
<rect x="1115.1" y="1502.93" width="510.3" height="7.56" fill="#FFA666"/>
<rect x="1115.1" y="1509.29" width="510.3" height="7.56" fill="#FFA666"/>
<rect x="1115.1" y="1515.65" width="510.3" height="7.56" fill="#FFB26E"/>
<rect x="1115.1" y="1522.00" width="510.3" height="7.56" fill="#FFB16D"/>
<rect x="1115.1" y="1528.36" width="510.3" height="7.56" fill="#FFB06C"/>
<rect x="1115.1" y="1534.71" width="510.3" height="7.56" fill="#FFAE6C"/>
<rect x="1115.1" y="1541.07" width="510.3" height="7.56" fill="#FFAD6B"/>
<rect x="1115.1" y="1547.43" width="510.3" height="7.56" fill="#FE6141"/>
<rect x="1115.1" y="1553.78" width="510.3" height="7.56" fill="#FE6341"/>
<rect x="1115.1" y="1560.14" width="510.3" height="7.56" fill="#FF6542"/>
<rect x="1115.1" y="1566.49" width="510.3" height="7.56" fill="#FF6743"/>
<rect x="1115.1" y="1572.85" width="510.3" height="7.56" fill="#FF6944"/>
<rect x="1115.1" y="1579.21" width="510.3" height="7.56" fill="#FF6A44"/>
<rect x="1115.1" y="1585.56" width="510.3" height="7.56" fill="#FF6C46"/>
<rect x="1115.1" y="1591.92" width="510.3" height="7.56" fill="#FF6D47"/>
<rect x="1115.1" y="1598.27" width="510.3" height="7.56" fill="#FF6E48"/>
<rect x="1115.1" y="1604.63" width="510.3" height="7.56" fill="#FF6F49"/>
<rect x="1115.1" y="1610.99" width="510.3" height="7.56" fill="#FF8553"/>
<rect x="1115.1" y="1617.34" width="510.3" height="7.56" fill="#FF8653"/>
<rect x="1115.1" y="1623.70" width="510.3" height="7.56" fill="#FF8653"/>
<rect x="1115.1" y="1630.05" width="510.3" height="7.56" fill="#FF8653"/>
<rect x="1115.1" y="1636.41" width="510.3" height="7.56" fill="#FF8754"/>
<rect x="1115.1" y="1642.77" width="510.3" height="7.56" fill="#FF8754"/>
<rect x="1115.1" y="1649.12" width="510.3" height="7.56" fill="#FF8854"/>
<rect x="1115.1" y="1655.48" width="510.3" height="7.56" fill="#FF8854"/>
<rect x="1115.1" y="1661.83" width="510.3" height="7.56" fill="#FF794C"/>
<rect x="1115.1" y="1668.19" width="510.3" height="7.56" fill="#FF784C"/>
<rect x="1115.1" y="1674.55" width="510.3" height="7.56" fill="#FF774C"/>
<rect x="1115.1" y="1680.90" width="510.3" height="7.56" fill="#FF774B"/>
<rect x="1115.1" y="1687.26" width="510.3" height="7.56" fill="#FF764B"/>
<rect x="1115.1" y="1693.61" width="510.3" height="7.56" fill="#FF754B"/>
<rect x="1115.1" y="1699.97" width="510.3" height="7.56" fill="#FF754B"/>
<rect x="1115.1" y="1706.33" width="510.3" height="7.56" fill="#FF744A"/>
<rect x="1115.1" y="1712.68" width="510.3" height="7.56" fill="#FF734A"/>
<rect x="1115.1" y="1719.04" width="510.3" height="7.56" fill="#FF734A"/>
<rect x="1115.1" y="1725.39" width="510.3" height="7.61" fill="#FF724A"/>
<rect x="1115.1" y="1732.40" width="510.3" height="8.81" fill="#FFC277"/>
<rect x="1115.1" y="1740.01" width="510.3" height="7.56" fill="#FFC378"/>
<rect x="1115.1" y="1746.37" width="510.3" height="7.56" fill="#FFC57A"/>
<rect x="1115.1" y="1752.73" width="510.3" height="7.56" fill="#FFC67B"/>
<rect x="1115.1" y="1759.09" width="510.3" height="7.56" fill="#FFC87C"/>
<rect x="1115.1" y="1765.44" width="510.3" height="7.56" fill="#FFC97D"/>
<rect x="1115.1" y="1771.80" width="510.3" height="7.56" fill="#FFCA7F"/>
<rect x="1115.1" y="1778.16" width="510.3" height="7.56" fill="#FFCE81"/>
<rect x="1115.1" y="1784.52" width="510.3" height="7.56" fill="#FFD184"/>
<rect x="1115.1" y="1790.88" width="510.3" height="7.56" fill="#FFD587"/>
<rect x="1115.1" y="1797.24" width="510.3" height="7.56" fill="#FFD88A"/>
<rect x="1115.1" y="1803.60" width="510.3" height="7.56" fill="#FFDC8D"/>
<rect x="1115.1" y="1809.96" width="510.3" height="7.56" fill="#FFDF90"/>
<rect x="1115.1" y="1816.31" width="510.3" height="7.56" fill="#FFE89C"/>
<rect x="1115.1" y="1822.67" width="510.3" height="7.56" fill="#FFE498"/>
<rect x="1115.1" y="1829.03" width="510.3" height="7.56" fill="#FFE295"/>
<rect x="1115.1" y="1835.39" width="510.3" height="7.56" fill="#FFE396"/>
<rect x="1115.1" y="1841.75" width="510.3" height="7.56" fill="#FFE396"/>
<rect x="1115.1" y="1848.11" width="510.3" height="7.56" fill="#FFE397"/>
<rect x="1115.1" y="1854.47" width="510.3" height="7.56" fill="#FFE498"/>
<rect x="1115.1" y="1860.83" width="510.3" height="7.56" fill="#FFE498"/>
<rect x="1115.1" y="1867.18" width="510.3" height="7.56" fill="#FFE599"/>
<rect x="1115.1" y="1873.54" width="510.3" height="7.56" fill="#E4F4E0"/>
<rect x="1115.1" y="1879.90" width="510.3" height="7.56" fill="#D7EEF1"/>
<rect x="1115.1" y="1886.26" width="510.3" height="7.56" fill="#D6EEF1"/>
<rect x="1115.1" y="1892.62" width="510.3" height="7.56" fill="#D6EEF1"/>
<rect x="1115.1" y="1898.98" width="510.3" height="7.56" fill="#D5EEF2"/>
<rect x="1115.1" y="1905.34" width="510.3" height="7.56" fill="#D5EEF2"/>
<rect x="1115.1" y="1911.69" width="510.3" height="7.56" fill="#D4EEF3"/>
<rect x="1115.1" y="1918.05" width="510.3" height="7.56" fill="#F0F8D1"/>
<rect x="1115.1" y="1924.41" width="510.3" height="7.56" fill="#F2F8CF"/>
<rect x="1115.1" y="1930.77" width="510.3" height="7.56" fill="#F3F8CE"/>
<rect x="1115.1" y="1937.13" width="510.3" height="7.56" fill="#F4F9CC"/>
<rect x="1115.1" y="1943.49" width="510.3" height="7.56" fill="#F5F9CA"/>
<rect x="1115.1" y="1949.85" width="510.3" height="7.56" fill="#F6FAC8"/>
<rect x="1115.1" y="1956.21" width="510.3" height="7.56" fill="#F7FAC6"/>
<rect x="1115.1" y="1962.57" width="510.3" height="7.56" fill="#F8FAC4"/>
<rect x="1115.1" y="1968.92" width="510.3" height="7.56" fill="#F9FBC2"/>
<rect x="1115.1" y="1975.28" width="510.3" height="7.56" fill="#FAFBC0"/>
<rect x="1115.1" y="1981.64" width="510.3" height="6.36" fill="#FBFBBD"/>
</g>
<g stroke="#000" stroke-opacity="0.05" stroke-width="1.0">
<path d="M93.4 35.39H1625.4M93.4 41.77H1625.4M93.4 48.16H1625.4M93.4 54.54H1625.4M93.4 60.93H1625.4M93.4 67.31H1625.4M93.4 73.70H1625.4M93.4 80.08H1625.4M93.4 86.47H1625.4M93.4 92.85H1625.4M93.4 99.24H1625.4M93.4 105.62H1625.4M93.4 112.01H1625.4M93.4 118.40H1625.4M93.4 124.78H1625.4M93.4 131.17H1625.4M93.4 137.55H1625.4M93.4 143.94H1625.4M93.4 150.32H1625.4M93.4 156.71H1625.4M93.4 163.09H1625.4M93.4 169.48H1625.4M93.4 175.86H1625.4M93.4 190.49H1625.4M93.4 196.82H1625.4M93.4 203.16H1625.4M93.4 209.50H1625.4M93.4 215.83H1625.4M93.4 222.17H1625.4M93.4 228.51H1625.4M93.4 234.84H1625.4M93.4 241.18H1625.4M93.4 247.52H1625.4M93.4 253.86H1625.4M93.4 260.19H1625.4M93.4 266.53H1625.4M93.4 272.87H1625.4M93.4 279.20H1625.4M93.4 285.54H1625.4M93.4 291.88H1625.4M93.4 298.21H1625.4M93.4 312.81H1625.4M93.4 319.17H1625.4M93.4 325.54H1625.4M93.4 331.90H1625.4M93.4 338.26H1625.4M93.4 344.62H1625.4M93.4 350.98H1625.4M93.4 357.35H1625.4M93.4 363.71H1625.4M93.4 370.07H1625.4M93.4 376.43H1625.4M93.4 382.79H1625.4M93.4 389.16H1625.4M93.4 395.52H1625.4M93.4 401.88H1625.4M93.4 408.24H1625.4M93.4 414.60H1625.4M93.4 420.97H1625.4M93.4 427.33H1625.4M93.4 433.69H1625.4M93.4 440.05H1625.4M93.4 446.41H1625.4M93.4 452.78H1625.4M93.4 459.14H1625.4M93.4 465.50H1625.4M93.4 471.86H1625.4M93.4 478.22H1625.4M93.4 484.59H1625.4M93.4 490.95H1625.4M93.4 497.31H1625.4M93.4 503.67H1625.4M93.4 510.03H1625.4M93.4 516.40H1625.4M93.4 522.76H1625.4M93.4 529.12H1625.4M93.4 535.48H1625.4M93.4 541.84H1625.4M93.4 548.21H1625.4M93.4 554.57H1625.4M93.4 560.93H1625.4M93.4 567.29H1625.4M93.4 573.65H1625.4M93.4 580.02H1625.4M93.4 586.38H1625.4M93.4 592.74H1625.4M93.4 599.10H1625.4M93.4 605.46H1625.4M93.4 611.83H1625.4M93.4 618.19H1625.4M93.4 632.81H1625.4M93.4 639.16H1625.4M93.4 645.52H1625.4M93.4 651.87H1625.4M93.4 658.23H1625.4M93.4 664.59H1625.4M93.4 670.94H1625.4M93.4 677.30H1625.4M93.4 683.65H1625.4M93.4 690.01H1625.4M93.4 696.37H1625.4M93.4 702.72H1625.4M93.4 709.08H1625.4M93.4 715.44H1625.4M93.4 721.79H1625.4M93.4 728.15H1625.4M93.4 734.50H1625.4M93.4 740.86H1625.4M93.4 747.22H1625.4M93.4 753.57H1625.4M93.4 759.93H1625.4M93.4 766.28H1625.4M93.4 772.64H1625.4M93.4 779.00H1625.4M93.4 785.35H1625.4M93.4 791.71H1625.4M93.4 798.06H1625.4M93.4 804.42H1625.4M93.4 810.78H1625.4M93.4 817.13H1625.4M93.4 823.49H1625.4M93.4 829.85H1625.4M93.4 836.20H1625.4M93.4 842.56H1625.4M93.4 848.91H1625.4M93.4 855.27H1625.4M93.4 861.63H1625.4M93.4 867.98H1625.4M93.4 874.34H1625.4M93.4 880.69H1625.4M93.4 895.41H1625.4M93.4 901.86H1625.4M93.4 908.32H1625.4M93.4 914.78H1625.4M93.4 921.24H1625.4M93.4 927.69H1625.4M93.4 942.39H1625.4M93.4 948.74H1625.4M93.4 955.08H1625.4M93.4 961.42H1625.4M93.4 967.76H1625.4M93.4 974.11H1625.4M93.4 980.45H1625.4M93.4 986.79H1625.4M93.4 993.14H1625.4M93.4 999.48H1625.4M93.4 1005.82H1625.4M93.4 1012.16H1625.4M93.4 1018.51H1625.4M93.4 1024.85H1625.4M93.4 1031.19H1625.4M93.4 1037.54H1625.4M93.4 1043.88H1625.4M93.4 1050.22H1625.4M93.4 1056.56H1625.4M93.4 1062.91H1625.4M93.4 1077.52H1625.4M93.4 1083.88H1625.4M93.4 1090.25H1625.4M93.4 1096.62H1625.4M93.4 1102.98H1625.4M93.4 1109.35H1625.4M93.4 1115.72H1625.4M93.4 1122.08H1625.4M93.4 1128.45H1625.4M93.4 1134.82H1625.4M93.4 1141.18H1625.4M93.4 1147.55H1625.4M93.4 1153.92H1625.4M93.4 1160.28H1625.4M93.4 1166.65H1625.4M93.4 1173.02H1625.4M93.4 1179.38H1625.4M93.4 1185.75H1625.4M93.4 1192.12H1625.4M93.4 1198.48H1625.4M93.4 1213.12H1625.4M93.4 1219.48H1625.4M93.4 1225.85H1625.4M93.4 1232.22H1625.4M93.4 1238.58H1625.4M93.4 1244.95H1625.4M93.4 1251.32H1625.4M93.4 1257.68H1625.4M93.4 1264.05H1625.4M93.4 1270.42H1625.4M93.4 1276.78H1625.4M93.4 1283.15H1625.4M93.4 1289.52H1625.4M93.4 1295.88H1625.4M93.4 1310.50H1625.4M93.4 1316.84H1625.4M93.4 1323.19H1625.4M93.4 1329.54H1625.4M93.4 1335.89H1625.4M93.4 1342.23H1625.4M93.4 1348.58H1625.4M93.4 1354.93H1625.4M93.4 1361.27H1625.4M93.4 1367.62H1625.4M93.4 1373.97H1625.4M93.4 1380.31H1625.4M93.4 1386.66H1625.4M93.4 1393.01H1625.4M93.4 1399.36H1625.4M93.4 1405.70H1625.4M93.4 1420.31H1625.4M93.4 1426.66H1625.4M93.4 1433.02H1625.4M93.4 1439.37H1625.4M93.4 1445.73H1625.4M93.4 1452.09H1625.4M93.4 1458.44H1625.4M93.4 1464.80H1625.4M93.4 1471.15H1625.4M93.4 1477.51H1625.4M93.4 1483.87H1625.4M93.4 1490.22H1625.4M93.4 1496.58H1625.4M93.4 1502.93H1625.4M93.4 1509.29H1625.4M93.4 1515.65H1625.4M93.4 1522.00H1625.4M93.4 1528.36H1625.4M93.4 1534.71H1625.4M93.4 1541.07H1625.4M93.4 1547.43H1625.4M93.4 1553.78H1625.4M93.4 1560.14H1625.4M93.4 1566.49H1625.4M93.4 1572.85H1625.4M93.4 1579.21H1625.4M93.4 1585.56H1625.4M93.4 1591.92H1625.4M93.4 1598.27H1625.4M93.4 1604.63H1625.4M93.4 1610.99H1625.4M93.4 1617.34H1625.4M93.4 1623.70H1625.4M93.4 1630.05H1625.4M93.4 1636.41H1625.4M93.4 1642.77H1625.4M93.4 1649.12H1625.4M93.4 1655.48H1625.4M93.4 1661.83H1625.4M93.4 1668.19H1625.4M93.4 1674.55H1625.4M93.4 1680.90H1625.4M93.4 1687.26H1625.4M93.4 1693.61H1625.4M93.4 1699.97H1625.4M93.4 1706.33H1625.4M93.4 1712.68H1625.4M93.4 1719.04H1625.4M93.4 1725.39H1625.4M93.4 1740.01H1625.4M93.4 1746.37H1625.4M93.4 1752.73H1625.4M93.4 1759.09H1625.4M93.4 1765.44H1625.4M93.4 1771.80H1625.4M93.4 1778.16H1625.4M93.4 1784.52H1625.4M93.4 1790.88H1625.4M93.4 1797.24H1625.4M93.4 1803.60H1625.4M93.4 1809.96H1625.4M93.4 1816.31H1625.4M93.4 1822.67H1625.4M93.4 1829.03H1625.4M93.4 1835.39H1625.4M93.4 1841.75H1625.4M93.4 1848.11H1625.4M93.4 1854.47H1625.4M93.4 1860.83H1625.4M93.4 1867.18H1625.4M93.4 1873.54H1625.4M93.4 1879.90H1625.4M93.4 1886.26H1625.4M93.4 1892.62H1625.4M93.4 1898.98H1625.4M93.4 1905.34H1625.4M93.4 1911.69H1625.4M93.4 1918.05H1625.4M93.4 1924.41H1625.4M93.4 1930.77H1625.4M93.4 1937.13H1625.4M93.4 1943.49H1625.4M93.4 1949.85H1625.4M93.4 1956.21H1625.4M93.4 1962.57H1625.4M93.4 1968.92H1625.4M93.4 1975.28H1625.4M93.4 1981.64H1625.4"/>
</g>
<g fill="#fff" fill-opacity="0.8">
<rect x="603.45" y="29.0" width="1.10" height="1959.0"/>
<rect x="1114.55" y="29.0" width="1.10" height="1959.0"/>
</g>
<g fill="#fff" fill-opacity="0.92">
<rect x="73.7" y="182.55" width="1552.2" height="1.30"/>
<rect x="73.7" y="304.85" width="1552.2" height="1.30"/>
<rect x="73.7" y="624.85" width="1552.2" height="1.30"/>
<rect x="73.7" y="887.35" width="1552.2" height="1.30"/>
<rect x="73.7" y="934.45" width="1552.2" height="1.30"/>
<rect x="73.7" y="1069.55" width="1552.2" height="1.30"/>
<rect x="73.7" y="1205.15" width="1552.2" height="1.30"/>
<rect x="73.7" y="1302.55" width="1552.2" height="1.30"/>
<rect x="73.7" y="1412.35" width="1552.2" height="1.30"/>
<rect x="73.7" y="1732.05" width="1552.2" height="1.30"/>
</g>
<defs><filter id="lb" x="-5%" y="-1%" width="110%" height="102%"><feGaussianBlur stdDeviation="0.8"/></filter></defs>
<g class="rl" filter="url(#lb)" text-rendering="geometricPrecision">
<text x="1629.6" y="34.89">ATTTTTTGTTGGAACAGTCTGACC</text>
<text x="1629.6" y="41.28">ATACCGTTCCTCAATTTCAAATTG</text>
<text x="1629.6" y="47.66">ATCGGGCGTCTTTACGAATAAGCT</text>
<text x="1629.6" y="54.05">CTTTCATCGCTTTCTCGTTCCATG</text>
<text x="1629.6" y="60.43">TCGTTGGTGATTTTTCCATACAGG</text>
<text x="1629.6" y="66.82">TATCCATGCCAGGTGGATTTAGGG</text>
<text x="1629.6" y="73.21">AGCACACAGGAGGTGATTACGTGG</text>
<text x="1629.6" y="79.59">ATTTAAAGGATGAGGTTCCTCGTA</text>
<text x="1629.6" y="85.98">ACATGTAATTCCAGTGGGGTGCAA</text>
<text x="1629.6" y="92.36">ACGTAGGCGATTATGGGTATACAT</text>
<text x="1629.6" y="98.75">AGTGGAGTCTTAGCATTCTCACATT</text>
<text x="1629.6" y="105.13">ACCCACAGAGGGGTGTATTTTATT</text>
<text x="1629.6" y="111.52">CAAGATCAAGCCTGTTGTCATTTT</text>
<text x="1629.6" y="117.90">CTTATGTGACATTATTGCAAGTTC</text>
<text x="1629.6" y="124.29">ATACTCGGAGTTAACAGGTCAATA</text>
<text x="1629.6" y="130.67">TTGAATGTGGAGCGTGTATCGTAC</text>
<text x="1629.6" y="137.06">AACCAAATATGAAGCGTAGTTAAA</text>
<text x="1629.6" y="143.44">GCAGAGAGCGGCGCAAAGTAAGCC</text>
<text x="1629.6" y="149.83">AATTGGGCGGCCGTGAACGTAATA</text>
<text x="1629.6" y="156.22">TGCTGTTCAGACCTATCGTAGGAT</text>
<text x="1629.6" y="162.60">AAGTTCAGGTATGATCTCACCCTG</text>
<text x="1629.6" y="168.99">ATCTTTTGGAGTATCGACGACGCT</text>
<text x="1629.6" y="175.37">AAGGTAGCACCATTTTATAAGATC</text>
<text x="1629.6" y="181.76">ACTGTAGTGGTGTAATAAGTATAG</text>
<text x="1629.6" y="190.02">ACTACGCGAATTACTACAAAAAA</text>
<text x="1629.6" y="196.36">ACGCAGGAAAGCTGTCACTTGAGA</text>
<text x="1629.6" y="202.69">ACTCGGTACCGATCCATGATGCGG</text>
<text x="1629.6" y="209.03">CCATGCGATCAAGTCTTCACATTA</text>
<text x="1629.6" y="215.37">TAGTCCCTAAAGCAGTAGATGACC</text>
<text x="1629.6" y="221.70">AGCATAGGGGCCCTATCAGACGGT</text>
<text x="1629.6" y="228.04">AATAGAGTTTTCCCCATCGCTAGG</text>
<text x="1629.6" y="234.38">ATTTTATAGGTAATACACTAGGTA</text>
<text x="1629.6" y="240.71">AAGACCCTCATAAGGGACGTACTAT</text>
<text x="1629.6" y="247.05">GATGAGAATCTCCTGAGCCGGTAG</text>
<text x="1629.6" y="253.39">CTTGTGCAAGATACGGGATCAACG</text>
<text x="1629.6" y="259.72">ATGGTATGTTCTGCATTTTTGTAC</text>
<text x="1629.6" y="266.06">TTCTTGATACTTGCCAAAAGATAC</text>
<text x="1629.6" y="272.40">GGCTCAAGTAGGCAAGATACACGT</text>
<text x="1629.6" y="278.73">ATCTTGCCTGTATGTTTACCTCTC</text>
<text x="1629.6" y="285.07">ATCGCCGTGTCAAGTCTCCATGTT</text>
<text x="1629.6" y="291.41">TTTCCTATTAAGACGACCGGAGAA</text>
<text x="1629.6" y="297.74">ATATCATGTCCCTCCCCTTGCATT</text>
<text x="1629.6" y="304.08">ACCACCTTAACTATCGGAGTTGGTT</text>
<text x="1629.6" y="312.33">AGGAATGCTGGTTGATCTGAGGTA</text>
<text x="1629.6" y="318.69">GTTATACCAGTTTCAAGGTTCTAC</text>
<text x="1629.6" y="325.05">GCGTCTGGATCGCCAAACAATCA</text>
<text x="1629.6" y="331.42">AAAACATACGTAATAGTAGGATAA</text>
<text x="1629.6" y="337.78">ATTGGACTATCTACCATGTGGAAC</text>
<text x="1629.6" y="344.14">TTCAATAGCCGGCTTTCGGGTGAT</text>
<text x="1629.6" y="350.50">CGGAGTTAGGAGATGAAATAAATA</text>
<text x="1629.6" y="356.86">GGTAGTGAGTACAGCGTTGTGGA</text>
<text x="1629.6" y="363.23">GTGACGCTCCGCTTTGAATGTTCA</text>
<text x="1629.6" y="369.59">TTTGTCGCGACGACGGCGAATTCT</text>
<text x="1629.6" y="375.95">TTACAGAAGAGTGCATAGCGAACT</text>
<text x="1629.6" y="382.31">ATTGGGTTTATTCAAAGTGATTTA</text>
<text x="1629.6" y="388.67">CTGGGGTCTCCCTATTCTTGATAT</text>
<text x="1629.6" y="395.04">ACCCGGGTCTGGGCTGTAGTGTCCG</text>
<text x="1629.6" y="401.40">AAGTAGTTATACAGTAAAACACTT</text>
<text x="1629.6" y="407.76">AACGATATGTGTGCTTCGAATGGG</text>
<text x="1629.6" y="414.12">ATTGTAATCGCGTATTTCCGGGCT</text>
<text x="1629.6" y="420.48">CCCACCACTTTGATGATAGGGAGC</text>
<text x="1629.6" y="426.85">ATTTTTATAACGCAGTGGAGAGG</text>
<text x="1629.6" y="433.21">CCCAACCCTTAAGAAACGGCTAGC</text>
<text x="1629.6" y="439.57">ACGATTAATTTTTTCGATCGTATG</text>
<text x="1629.6" y="445.93">TCGTAATGGATGTGCACGGTTTCC</text>
<text x="1629.6" y="452.29">CCGGATTAGGTATAATCTTAGACG</text>
<text x="1629.6" y="458.66">AATTGGGGCACATGCGTTTGTGT</text>
<text x="1629.6" y="465.02">TGTTTGTGAATGGATACATGTGCT</text>
<text x="1629.6" y="471.38">ATTACTTCGGTCTGGCTAATGCA</text>
<text x="1629.6" y="477.74">CAGGTCGACTAGATAGGGTTGCGA</text>
<text x="1629.6" y="484.10">ACCGAAGGCGGCTTGCTAGCGCAC</text>
<text x="1629.6" y="490.47">ATTTATAAAGTCGTACTTACCTTAT</text>
<text x="1629.6" y="496.83">ACGAGATGATCTAACGTAAAAGAC</text>
<text x="1629.6" y="503.19">ATGAAGAATTTAAGTCAAACTATC</text>
<text x="1629.6" y="509.55">AAACTGGATGGAATGACACTACAT</text>
<text x="1629.6" y="515.91">ACCGCAGCAGAACTGTATCATGGGG</text>
<text x="1629.6" y="522.28">AACGCGAACTCGCTCACTAGTCTA</text>
<text x="1629.6" y="528.64">AGATGTACTATTTATTTCGATTCG</text>
<text x="1629.6" y="535.00">ATGGCAACCCGGCAAACGCTCGG</text>
<text x="1629.6" y="541.36">CTCCGGTCACATTTGGCCATGGCG</text>
<text x="1629.6" y="547.73">TTAGCTTATGCGCGTGAATTAGCGC</text>
<text x="1629.6" y="554.09">ACTCGTCCACTTGGTGCAGCCGCT</text>
<text x="1629.6" y="560.45">AATGAAACGAACAGGGATAGTGA</text>
<text x="1629.6" y="566.81">TAAACGCTCGGTGAATGCTGATGG</text>
<text x="1629.6" y="573.17">AAGGCTTAATGCTTGGAAGCAAGA</text>
<text x="1629.6" y="579.54">TACATCTGGATCGTCTTAGCGTTA</text>
<text x="1629.6" y="585.90">ATAGTGGGGGTCACGTGTACCATT</text>
<text x="1629.6" y="592.26">AGAAAATCTGGTTGGAATGTAATC</text>
<text x="1629.6" y="598.62">ATGATACTCACTCAGAACCCGTTC</text>
<text x="1629.6" y="604.98">ATACCCCCCACTAAATGGGCCTTC</text>
<text x="1629.6" y="611.35">ACTTGTGCCCTTTTTAGTGACTC</text>
<text x="1629.6" y="617.71">ATGATGATTTGTATGTGCGTAACC</text>
<text x="1629.6" y="624.07">GTCGAACCGCTTGACCAAAAGCCT</text>
<text x="1629.6" y="632.33">AAGCTGCTGAGTGGAAAGTACTTG</text>
<text x="1629.6" y="638.68">GATTTTGGTACGCTGAAAGAGCAG</text>
<text x="1629.6" y="645.04">AGCATATTGTGCCATCTGAGAACG</text>
<text x="1629.6" y="651.40">TCAGTGGCCCGACCACGCATTAGC</text>
<text x="1629.6" y="657.75">ACATTATTTAATTGGCCAATACCA</text>
<text x="1629.6" y="664.11">AATTCACCTTGTATCTATACAAAC</text>
<text x="1629.6" y="670.46">TGTGGAAGGTTTAGATATTGACAA</text>
<text x="1629.6" y="676.82">ATGGTGGATCGAAATTGTCGGTCCT</text>
<text x="1629.6" y="683.18">ATGTTGATGGTGCTGAATTCGCGG</text>
<text x="1629.6" y="689.53">ATTCCGGCTCGATGTTGTACGGCT</text>
<text x="1629.6" y="695.89">AAAGTAATTGAGGATCTTATAGAA</text>
<text x="1629.6" y="702.25">ATGGCGTCTGGAGGGATTAGTGGT</text>
<text x="1629.6" y="708.60">AGGATCCGCCGCATGCGGCAACAAG</text>
<text x="1629.6" y="714.96">ATCTCAAATGATGAGATCTTCGTC</text>
<text x="1629.6" y="721.31">AGGAGCTCCCCCATTGAGCCCATT</text>
<text x="1629.6" y="727.67">TACCTCGGTACACGCCGACCAAG</text>
<text x="1629.6" y="734.03">AACTCTGAATCATTTGTTTATCAT</text>
<text x="1629.6" y="740.38">AGCCTCTGGCCATCAGTTTAGTTT</text>
<text x="1629.6" y="746.74">ATGAGCTGCGCAAGTAAAGGAGAA</text>
<text x="1629.6" y="753.09">ATCAATAACGGTGGAGTTGTCTGC</text>
<text x="1629.6" y="759.45">ACCCAATGTTTTCCGTAACGTGCC</text>
<text x="1629.6" y="765.81">AGACCGGTACATACCATATAAAAT</text>
<text x="1629.6" y="772.16">ACTTAGCGTATTTTGCCCGGTTAC</text>
<text x="1629.6" y="778.52">AAATACTTTATTAATGTAGATAAT</text>
<text x="1629.6" y="784.87">AGGTGACTGAGTACTAAACCCCGC</text>
<text x="1629.6" y="791.23">ATCCGATAAAACAATCACCAGCGC</text>
<text x="1629.6" y="797.59">ATTTCTCAATGTTCACAATGATAT</text>
<text x="1629.6" y="803.94">ATTCATATCTATGGTCCTGAACCG</text>
<text x="1629.6" y="810.30">ATCTAAGCATAGGTGCATTTCTTG</text>
<text x="1629.6" y="816.65">GGCCTCTTACAGCTATTGCGGGCTA</text>
<text x="1629.6" y="823.01">AGATTGTGGCTTTAATGTCACAGC</text>
<text x="1629.6" y="829.37">GCGCTAGCGCGTGGGAGGGAGTT</text>
<text x="1629.6" y="835.72">ACATGATTCTAGAGGTAGTTTGCA</text>
<text x="1629.6" y="842.08">ACTTTTGCATCACTAATTGACTTA</text>
<text x="1629.6" y="848.44">AAATGAGGGCAGTAAAACTTCTA</text>
<text x="1629.6" y="854.79">AGCCATAAGCGCGCGATTCAATCT</text>
<text x="1629.6" y="861.15">TTCGAGTCGAAGGCCTATGACGTC</text>
<text x="1629.6" y="867.50">ACATTCGAATCGTGTCGTCGCTGC</text>
<text x="1629.6" y="873.86">ATCAGTTCTTCTGTTATGGAAATA</text>
<text x="1629.6" y="880.22">TGGGAGGCGTCATCGCGAAGTTT</text>
<text x="1629.6" y="886.57">ACACACTGCTCCCATAAATTATGC</text>
<text x="1629.6" y="894.88">AGCTATAATGGCGCTTCAGCTAAGC</text>
<text x="1629.6" y="901.34">CCTGGGTACTTATCGTAATTTATG</text>
<text x="1629.6" y="907.79">AAGTCCTTAGTGCTTGGATCATTA</text>
<text x="1629.6" y="914.25">AGCAAGAGGGAGGTGAAGACTTTC</text>
<text x="1629.6" y="920.71">GCGGTGCAAGTGACGCAGACACCG</text>
<text x="1629.6" y="927.16">GATCTGTAATGGATTCTTACGCTT</text>
<text x="1629.6" y="933.62">CCTGTCTATCTCCGAGATATTGAT</text>
<text x="1629.6" y="941.92">AGTTTAAAATAATGCTTCAGTTAC</text>
<text x="1629.6" y="948.26">GTCTGCTCTAAAACCTGTCTTGGC</text>
<text x="1629.6" y="954.61">ACCAGCGGTGTTCGCTATACCTAT</text>
<text x="1629.6" y="960.95">ATTGACTCTCCCCAGAAAAATTGT</text>
<text x="1629.6" y="967.29">TCACTCTATGTGTAGTTGATGGTT</text>
<text x="1629.6" y="973.64">CTTGTAGCTGACACAGTTGTATAG</text>
<text x="1629.6" y="979.98">AACTCCCCCTACGGACCTATATTC</text>
<text x="1629.6" y="986.32">AGTTTCTGACAAAGACATAAAGAG</text>
<text x="1629.6" y="992.66">GCACCAAGCATAGAGAATGACGGT</text>
<text x="1629.6" y="999.01">TTTAAGGTATACTTTGAATGTTAA</text>
<text x="1629.6" y="1005.35">AAGTGGGGCATCAGAAGAAACATC</text>
<text x="1629.6" y="1011.69">AATAGTTCATTGCCGTTTGTTTAT</text>
<text x="1629.6" y="1018.04">ACGTCCGTATTATACCAGGTAGTT</text>
<text x="1629.6" y="1024.38">ATCATGTACGACGTTGGACGAGCT</text>
<text x="1629.6" y="1030.72">ATCAGAGACTATGTCATTCACTGT</text>
<text x="1629.6" y="1037.06">TGGGTTTCAGGGGTGCCGGCGATT</text>
<text x="1629.6" y="1043.41">ATGAAGTCGTTCTGTCTATGGACGC</text>
<text x="1629.6" y="1049.75">CCGACATTTAAGCTACCCACATAT</text>
<text x="1629.6" y="1056.09">ATAATGGTGACACATGCAACGTTA</text>
<text x="1629.6" y="1062.44">AATCATAGACTTGTCGTTTTTCGG</text>
<text x="1629.6" y="1068.78">AACAAGTGAAATCCACTGAGTACC</text>
<text x="1629.6" y="1077.03">AGACAATATGGTAACTGATGTCTG</text>
<text x="1629.6" y="1083.40">AATGGACTCTAGAATGTGGAATGG</text>
<text x="1629.6" y="1089.77">ATCTGACAGCATCTGTTGATACCG</text>
<text x="1629.6" y="1096.13">AACGTTCGACCTATGTGAATGATT</text>
<text x="1629.6" y="1102.50">GGTAACAGGCATCGCAATGTATAT</text>
<text x="1629.6" y="1108.87">AGCCCGTGGTCATATTGTTGGTT</text>
<text x="1629.6" y="1115.23">AGTTGTGTATTTTGGGCCAATCAC</text>
<text x="1629.6" y="1121.60">AGACAACTAGACCCAAGAAGATCTT</text>
<text x="1629.6" y="1127.97">ATTTCTCGTTGATGCCCATGAATA</text>
<text x="1629.6" y="1134.33">TAAAGCTTCTAACCTGACTGAAAA</text>
<text x="1629.6" y="1140.70">CGTTTTTAGACGGGAATATATCAT</text>
<text x="1629.6" y="1147.07">AGTTTCTTTTAGAGCGCGGTACAT</text>
<text x="1629.6" y="1153.43">AGTGTAATTTTCGTAAATATCAGCT</text>
<text x="1629.6" y="1159.80">AGGTGATATCCGCCCGCGAGCACT</text>
<text x="1629.6" y="1166.17">ATACGAGAATTTTTTGCCAGCCGC</text>
<text x="1629.6" y="1172.53">CAATCCCGAAGCTATTGAAGGATG</text>
<text x="1629.6" y="1178.90">TTGCAAGTATCGTCATGGAACTGG</text>
<text x="1629.6" y="1185.27">AATGAGCCTGAATCGACCGCAAGTG</text>
<text x="1629.6" y="1191.63">AAGGTCTTCTATGCTTGCGGTAGA</text>
<text x="1629.6" y="1198.00">GCTGTGTAGAGACTTACCTGTTCA</text>
<text x="1629.6" y="1204.37">AGTAAACTTCTTGAAGCTCATCGG</text>
<text x="1629.6" y="1212.63">AGGCTATTTTCCCCCTATCAGCTA</text>
<text x="1629.6" y="1219.00">ATCCAGATTGGTCGCGGCCGGTTT</text>
<text x="1629.6" y="1225.37">TGATTGGACGAATTAGAAGAAGCA</text>
<text x="1629.6" y="1231.73">AACTACGTGATTAGAGCATGTAGC</text>
<text x="1629.6" y="1238.10">ACTGCGGCGTTATAATCTATTTGG</text>
<text x="1629.6" y="1244.47">AGCGAATTGTGAAATAAAAAGGCT</text>
<text x="1629.6" y="1250.83">CATGGTGCAGTCTCTATATTATCC</text>
<text x="1629.6" y="1257.20">AGATAGGTTGCGTATATGCCACGG</text>
<text x="1629.6" y="1263.57">AGTTCCCATAAGCTACTGGATTT</text>
<text x="1629.6" y="1269.93">AAGCACCATTCCTCGCTATACCGG</text>
<text x="1629.6" y="1276.30">AGGTGCCTTTACTTACGTCTAGCT</text>
<text x="1629.6" y="1282.67">TGTATGATGAGAAAGTACATTTGG</text>
<text x="1629.6" y="1289.03">AGGCTTCGACTCAGGAAATGGTCT</text>
<text x="1629.6" y="1295.40">TGTAGTGATATGGTTTGGGAATAG</text>
<text x="1629.6" y="1301.77">GCAATTGTACAAACTATTACGGAT</text>
<text x="1629.6" y="1310.02">ACAAATACAATTTTTGGTCTGCTC</text>
<text x="1629.6" y="1316.37">ACGCTGCTAGTCGAAGTTTTGTTA</text>
<text x="1629.6" y="1322.72">CATGTTCAGTCACCTAGCCCCTGG</text>
<text x="1629.6" y="1329.06">AGCCCTGTGGCGCGGACTGCTGTCT</text>
<text x="1629.6" y="1335.41">ACGTAGCCCTACGAGATACGGATTC</text>
<text x="1629.6" y="1341.76">AACCGAATGGTTGATGTGCAAATC</text>
<text x="1629.6" y="1348.11">CGTTGCATGATCTCCCGTCTCGGTG</text>
<text x="1629.6" y="1354.45">AGTGAATAATATAGAGGAGTGTTT</text>
<text x="1629.6" y="1360.80">AAGATAGGGAAGTGGAATGACTAT</text>
<text x="1629.6" y="1367.15">ATAGGGTACGTTTTTTCACTTTTG</text>
<text x="1629.6" y="1373.49">CGGAAAAGAGAGTCTTTTTCGCA</text>
<text x="1629.6" y="1379.84">ACATTAGAAAGTGTAGTCGCGTCG</text>
<text x="1629.6" y="1386.19">CACAGTAATTGTTTTTATCTTATA</text>
<text x="1629.6" y="1392.54">CAGTGTGCAATCTTTTTGCGTGTC</text>
<text x="1629.6" y="1398.88">ACGGACACATTCGAGCGAGAAGTG</text>
<text x="1629.6" y="1405.23">TCAGTGATCGGGTGATTCGAGTGT</text>
<text x="1629.6" y="1411.58">ACTTCGGTGTTTCCCAATATAGC</text>
<text x="1629.6" y="1419.83">TGGTTTGCGTCTTGTGTCGTGTAC</text>
<text x="1629.6" y="1426.18">AATTCATCGGTACTCACAGACGAT</text>
<text x="1629.6" y="1432.54">ATTTTTAGTACCAGGGTACGGGAT</text>
<text x="1629.6" y="1438.90">CTATGAGAAAAGTTAGCGAAACAG</text>
<text x="1629.6" y="1445.25">AATCCTACCTCATGTCTTCCGGTC</text>
<text x="1629.6" y="1451.61">AAGTCGAACCGTGAGGCATTCGCGA</text>
<text x="1629.6" y="1457.96">ATGGCCTTCTCTCGCACCTATACG</text>
<text x="1629.6" y="1464.32">GGAGTCTCTAAGCAAGAAATGTCG</text>
<text x="1629.6" y="1470.68">GACTAAAGCCACCTTGCTCTACGG</text>
<text x="1629.6" y="1477.03">AGCTTGTTTGATATCAATGCTTCG</text>
<text x="1629.6" y="1483.39">CCGATAGATTAACAGTGCCTCTCA</text>
<text x="1629.6" y="1489.74">ACTACCAGGGGGATAAAGCATTGG</text>
<text x="1629.6" y="1496.10">AAGTTAAGAACGATGGACCGTGGG</text>
<text x="1629.6" y="1502.46">CCGTGTTCATATTGGCGTCACACC</text>
<text x="1629.6" y="1508.81">ATGAGTACAGGGTTCCTGAAAGCT</text>
<text x="1629.6" y="1515.17">AAGATCTTCACATGATCGTTAGAT</text>
<text x="1629.6" y="1521.52">GAGGGGCCAAGGGAAATAGATAT</text>
<text x="1629.6" y="1527.88">AGCGCCCCTGCTCTATGTTACGTC</text>
<text x="1629.6" y="1534.24">ATGCCGGCGACCCGAGACCCTCCG</text>
<text x="1629.6" y="1540.59">GTGCCCGGTTTGCTTACGGTAGGT</text>
<text x="1629.6" y="1546.95">CCACGGGCCACTTTTCAATGTTCG</text>
<text x="1629.6" y="1553.30">AACGCGAGTGTCAAACCGCAGACA</text>
<text x="1629.6" y="1559.66">ATTGGGAACTCGAAGTCACAACCG</text>
<text x="1629.6" y="1566.02">CTCACGTCTTTCTGATCTCGATGC</text>
<text x="1629.6" y="1572.37">GTACTATACTAGTCCTTACCAAGA</text>
<text x="1629.6" y="1578.73">AGTGACACGCTGTGTTAAGACCGA</text>
<text x="1629.6" y="1585.08">CTAGGGGTTTCGATGACTTGCCTG</text>
<text x="1629.6" y="1591.44">AACGTCATACGTAGGGATTTTTGA</text>
<text x="1629.6" y="1597.80">AGGAGCTGGTGTGCCGTGGTAAGT</text>
<text x="1629.6" y="1604.15">ATTAAAATTGGACCTACAGTACGT</text>
<text x="1629.6" y="1610.51">ACTATGCTAGAAACTCCATGTATC</text>
<text x="1629.6" y="1616.86">AAGTGAGGCGTCTTTTTCTTGCTT</text>
<text x="1629.6" y="1623.22">AACGCGTGATCGGCCCGAACTTG</text>
<text x="1629.6" y="1629.58">ATCGAAACGAGAGGGAATCTTTCG</text>
<text x="1629.6" y="1635.93">AATAGGCAAATGAGTATTGGATGG</text>
<text x="1629.6" y="1642.29">ATATAATGACGCCCGGTTTTGAAC</text>
<text x="1629.6" y="1648.64">AGCGTTCACTTTTACAACCAGGCTG</text>
<text x="1629.6" y="1655.00">ACGGTTGGCCGAAGTGCCGCGGCT</text>
<text x="1629.6" y="1661.36">ATACCTCTAGTACGGACTACAACG</text>
<text x="1629.6" y="1667.71">ACTCATTGCTTTTCTTTTGGTGCA</text>
<text x="1629.6" y="1674.07">GTGAAGATCGAAGGAATTTTGGAA</text>
<text x="1629.6" y="1680.42">AAAAAACTGATAGGCATTATCGAT</text>
<text x="1629.6" y="1686.78">GCAAGACCCGCAATCATTAAGTCT</text>
<text x="1629.6" y="1693.14">AGTTACTAGTTCTTGCTGCCTGTC</text>
<text x="1629.6" y="1699.49">TGTTTATAAATGTGAGGTGGCGCT</text>
<text x="1629.6" y="1705.85">AAGACATACTGAATCCTACAGGCG</text>
<text x="1629.6" y="1712.20">AACCCACTGGCATTACTAAGTACA</text>
<text x="1629.6" y="1718.56">ATTTTAAGCAGTTTGTCATAACCC</text>
<text x="1629.6" y="1724.92">ACTTATGCTGATTCGTGTAAGCA</text>
<text x="1629.6" y="1731.27">GCTCTGGAATCTTAATATTAATCA</text>
<text x="1629.6" y="1739.53">GCTAGGATCTCTCGGAATGTATTT</text>
<text x="1629.6" y="1745.89">ATGAGAATTTGTACCTTAGGTGTG</text>
<text x="1629.6" y="1752.25">GAGCCAAGACCTTGGTTCAGGACA</text>
<text x="1629.6" y="1758.61">GTTCGTTCGAGAGGTGAGTTTTCG</text>
<text x="1629.6" y="1764.96">ACGTGCTAATTCGCTCCACACAGT</text>
<text x="1629.6" y="1771.32">ATGTATTGCGTATCAGTCCGGAT</text>
<text x="1629.6" y="1777.68">ATTGCCCAATAGGGGGTTTTAACT</text>
<text x="1629.6" y="1784.04">CGTGTCCAGCTTATCAAGTCTTTT</text>
<text x="1629.6" y="1790.40">TTTTTTAAGAGGTCTTTTGATAGA</text>
<text x="1629.6" y="1796.76">GTGTCGTAACTTATGCATCTAGGG</text>
<text x="1629.6" y="1803.12">CCCGGACGACACACGTCACTCACT</text>
<text x="1629.6" y="1809.48">ACCTGATTCCTGATCATAAAAATTT</text>
<text x="1629.6" y="1815.83">TTATGATTAGACATCTCAGGTAAT</text>
<text x="1629.6" y="1822.19">AGTTGCACTACTTGTTTTTGGCTG</text>
<text x="1629.6" y="1828.55">CCCTCTTGATAAACAGTAGGGTAT</text>
<text x="1629.6" y="1834.91">GGCCTTACAGGCGCTATTATCTGC</text>
<text x="1629.6" y="1841.27">TCCACCGCGGCTCCTCGGCCGTGT</text>
<text x="1629.6" y="1847.63">ATAGACCGCTGATCTCAAGAGGTG</text>
<text x="1629.6" y="1853.99">CTATGGGGAGTCCTTGGACTACTG</text>
<text x="1629.6" y="1860.35">ATTGCGTTATTGTAAACGGTGGGT</text>
<text x="1629.6" y="1866.70">ATTTAAATCTATTACTTTTTGGAA</text>
<text x="1629.6" y="1873.06">CGCATAAGATGAATGTTGTGATTC</text>
<text x="1629.6" y="1879.42">GAGCCCGCGCTTAGTACCAATTGA</text>
<text x="1629.6" y="1885.78">ATTCGAGCGTAGATTAACACCCAAT</text>
<text x="1629.6" y="1892.14">ATGTTACTTCCGCGCACCACAGGG</text>
<text x="1629.6" y="1898.50">ATGAGGAGTAAATAACTTGATGCT</text>
<text x="1629.6" y="1904.86">ATGTGGTAGTGCTGGCTGCGGGAT</text>
<text x="1629.6" y="1911.22">AGAGCGTGTGATTACGGGGGTGAA</text>
<text x="1629.6" y="1917.57">GAGCACTCTTGCTCACTGTTCCGCA</text>
<text x="1629.6" y="1923.93">ACTTGCCATACATAAAGACAACGCA</text>
<text x="1629.6" y="1930.29">CCGGATGTGTACGTTCTGAAACGA</text>
<text x="1629.6" y="1936.65">AAAGGCTACCTCACCCAAATTTAG</text>
<text x="1629.6" y="1943.01">ACTGCCTGCCCTCGGGGTATATCC</text>
<text x="1629.6" y="1949.37">GCACTGAAATGCCATCAAGTACCC</text>
<text x="1629.6" y="1955.73">ATTGCTGGCGGGACTATTATGTG</text>
<text x="1629.6" y="1962.09">AGTGTGCCTCGCATGTGATATTTT</text>
<text x="1629.6" y="1968.44">CGAATAAGTTGTCGAGTGGGGGGA</text>
<text x="1629.6" y="1974.80">ATCCGGTTTTGGGTAGGAGGCAGG</text>
<text x="1629.6" y="1981.16">GGGATTGAAGATCAAATCTTCTAT</text>
<text x="1629.6" y="1987.52">ATAATGAAGAAAATGTTTGCAGAT</text>
</g>
<g class="cl" text-anchor="middle" transform="translate(0 2036.50) scale(1 1.0450)">
<text x="348.8" y="0">Vir</text>
<text x="859.4" y="0">WB</text>
<text x="1371.2" y="0">NO</text>
</g>
<text x="83" y="2003.2" text-anchor="middle" font-weight="bold" font-size="17.4" fill="#111">Cluster</text>
<defs><linearGradient id="sc" x1="0" y1="0" x2="0" y2="1">
<stop offset="0" stop-color="#E2402C"/>
<stop offset="0.15" stop-color="#F4603C"/>
<stop offset="0.33" stop-color="#FDAE61"/>
<stop offset="0.5" stop-color="#FFF6B0"/>
<stop offset="0.62" stop-color="#E0F3F0"/>
<stop offset="0.8" stop-color="#8CC4E0"/>
<stop offset="1" stop-color="#3E78B4"/>
</linearGradient></defs>
<rect x="1766.8" y="29.2" width="3.8" height="63.8" fill="url(#sc)"/>
<g class="lg" style="font-size:17.8px">
<text x="1772.2" y="40.6">1</text>
<text x="1772.2" y="54.4">0.5</text>
<text x="1772.2" y="67.7">0</text>
<text x="1772.2" y="81.6">-0.5</text>
<text x="1772.2" y="95.0">-1</text>
</g>
<text x="1818.0" y="42.0" font-weight="bold" font-size="17.4" fill="#111">Cluster</text>
<g shape-rendering="crispEdges">
<rect x="1818.0" y="49.00" width="26.2" height="26.40" fill="#FF8A83"/>
<rect x="1818.0" y="75.20" width="26.2" height="26.40" fill="#DB9FFF"/>
<rect x="1818.0" y="101.40" width="26.2" height="26.40" fill="#CBB500"/>
<rect x="1818.0" y="127.60" width="26.2" height="26.40" fill="#FF7CD0"/>
<rect x="1818.0" y="153.80" width="26.2" height="26.40" fill="#FF82FF"/>
<rect x="1818.0" y="180.00" width="26.2" height="26.40" fill="#00DAB6"/>
<rect x="1818.0" y="206.20" width="26.2" height="26.40" fill="#00D2F8"/>
<rect x="1818.0" y="232.40" width="26.2" height="26.40" fill="#FFA800"/>
<rect x="1818.0" y="258.60" width="26.2" height="26.40" fill="#00D872"/>
<rect x="1818.0" y="284.80" width="26.2" height="26.40" fill="#48CC00"/>
<rect x="1818.0" y="311.00" width="26.2" height="26.40" fill="#00C0FF"/>
</g>
<g class="lg">
<text x="1849.4" y="68.3">1</text>
<text x="1849.4" y="94.5">2</text>
<text x="1849.4" y="120.7">3</text>
<text x="1849.4" y="146.9">4</text>
<text x="1849.4" y="173.1">5</text>
<text x="1849.4" y="199.3">6</text>
<text x="1849.4" y="225.5">7</text>
<text x="1849.4" y="251.7">8</text>
<text x="1849.4" y="277.9">9</text>
<text x="1849.4" y="304.1">10</text>
<text x="1849.4" y="330.3">11</text>
</g>
</svg></body></html>
